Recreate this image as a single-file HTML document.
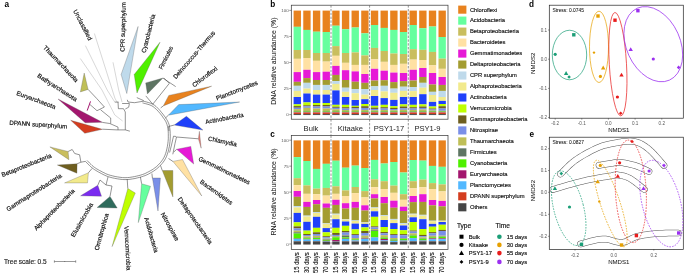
<!DOCTYPE html>
<html><head><meta charset="utf-8"><style>
html,body{margin:0;padding:0;background:#fff;}
body{width:685px;height:273px;overflow:hidden;}
svg{display:block;font-family:"Liberation Sans", sans-serif;will-change:transform;}
</style></head><body>
<svg width="685" height="273" viewBox="0 0 685 273">
<rect width="685" height="273" fill="#fff"/>
<g id="tree">
<text x="4.60" y="6.90" font-size="8.2" text-anchor="start" fill="#000" font-weight="bold">a</text>
<polyline points="94.4,33.5 112.3,90.0 114.8,98.0 117.0,102.1" fill="none" stroke="#b0b0b0" stroke-width="0.5"/>
<polyline points="85.4,45.6 107.2,90.0 114.8,102.1" fill="none" stroke="#b0b0b0" stroke-width="0.5"/>
<polyline points="80.3,58.5 102.0,90.0 114.8,115.0 122.6,121.0" fill="none" stroke="#b0b0b0" stroke-width="0.5"/>
<polyline points="113.0,62.3 118.7,90.0 122.1,102.1" fill="none" stroke="#b0b0b0" stroke-width="0.5"/>
<polyline points="88.1,89.4 96.8,98.6 104.4,107.0" fill="none" stroke="#3a3a3a" stroke-width="0.55"/>
<polyline points="89.7,104.3 97.0,110.7 104.4,107.0" fill="none" stroke="#3a3a3a" stroke-width="0.55"/>
<polyline points="100.6,109.8 110.7,118.0 110.7,123.5" fill="none" stroke="#3a3a3a" stroke-width="0.55"/>
<polyline points="102.4,122.4 109.8,123.5 118.0,127.1 118.0,129.9" fill="none" stroke="#3a3a3a" stroke-width="0.55"/>
<polyline points="102.4,129.2 117.1,129.9 125.3,129.9 129.9,131.2" fill="none" stroke="#3a3a3a" stroke-width="0.55"/>
<polyline points="114.8,102.1 118.4,102.1" fill="none" stroke="#3a3a3a" stroke-width="0.55"/>
<polyline points="118.0,101.8 118.4,108.7 123.5,108.7 125.3,112.0 125.3,129.9" fill="none" stroke="#3a3a3a" stroke-width="0.55"/>
<polyline points="122.1,103.5 129.4,103.5 128.7,107.2 125.3,109.0" fill="none" stroke="#3a3a3a" stroke-width="0.55"/>
<polyline points="127.3,99.8 128.0,102.0 134.6,102.7 143.4,101.2" fill="none" stroke="#3a3a3a" stroke-width="0.55"/>
<polyline points="136.8,97.6 143.4,100.5 143.4,101.2" fill="none" stroke="#3a3a3a" stroke-width="0.55"/>
<polyline points="145.8,95.9 152.8,104.2" fill="none" stroke="#3a3a3a" stroke-width="0.55"/>
<polyline points="162.9,78.1 175.7,86.6" fill="none" stroke="#3a3a3a" stroke-width="0.55"/>
<polyline points="163.8,78.0 169.3,83.4 152.8,104.2" fill="none" stroke="#3a3a3a" stroke-width="0.55"/>
<polyline points="143.4,101.2 144.6,101.5 146.3,101.9 148.2,102.5 150.3,103.1 152.4,104.0 154.3,105.1 156.1,106.5 157.9,108.3 159.7,110.2 161.4,112.3 163.0,114.2 164.4,116.1 165.6,117.7 166.6,119.3 167.5,120.8 168.2,122.3 168.9,124.0 169.4,126.0 169.8,128.3 170.1,130.8 170.2,133.4 170.3,136.2 170.2,138.9 170.0,141.5 169.7,144.1 169.3,146.7 168.7,149.3 168.1,151.9 167.3,154.3 166.5,156.5 165.5,158.5 164.5,160.3 163.3,162.0 162.0,163.6 160.7,165.1 159.3,166.5 157.9,167.8 156.4,169.1 154.9,170.2 153.3,171.3 151.6,172.3 150.0,173.2 148.4,174.1 146.7,174.9 145.1,175.6 143.3,176.2 141.5,176.8 139.5,177.4 137.3,177.9 135.0,178.5 132.5,178.9 130.0,179.3 127.5,179.5 125.0,179.6 122.5,179.5 119.9,179.2 117.2,178.8 114.6,178.3 112.2,177.8 110.0,177.2 108.0,176.6 106.2,175.9 104.6,175.2 103.0,174.4 101.5,173.6 100.0,172.8 98.5,172.0 97.1,171.2 95.8,170.4 94.5,169.6 93.2,168.7 92.0,167.8 90.7,166.7 89.5,165.5 88.2,164.3 87.1,163.1 86.1,162.1 85.4,161.4" fill="none" stroke="#3a3a3a" stroke-width="0.55"/>
<polyline points="142.5,102.9 143.7,103.2 145.3,103.6 147.1,104.1 149.2,104.7 151.2,105.5 153.0,106.5 154.7,107.9 156.5,109.5 158.2,111.3 159.9,113.2 161.4,115.1 162.7,116.9 163.8,118.5 164.8,119.9 165.7,121.4 166.4,122.9 167.0,124.5 167.5,126.4 167.9,128.6 168.2,131.0 168.3,133.5 168.3,136.2 168.3,138.8 168.1,141.3 167.8,143.8 167.4,146.3 166.9,148.8 166.3,151.3 165.6,153.6 164.8,155.7 163.9,157.6 162.8,159.4 161.7,161.0 160.5,162.5 159.2,163.9 157.9,165.3 156.5,166.6 155.1,167.7 153.6,168.8 152.1,169.8 150.5,170.7 148.9,171.6 147.3,172.4 145.8,173.2 144.2,173.9 142.5,174.5 140.7,175.1 138.8,175.6 136.7,176.1 134.5,176.6 132.2,177.0 129.8,177.4 127.4,177.6 125.0,177.7 122.6,177.6 120.1,177.3 117.5,176.9 115.1,176.5 112.7,175.9 110.6,175.4 108.7,174.8 107.0,174.2 105.4,173.5 103.9,172.7 102.4,172.0 101.0,171.2 99.6,170.5 98.2,169.7 96.9,169.0 95.7,168.2 94.5,167.4 93.3,166.5 92.1,165.5 90.9,164.3 89.7,163.2 88.6,162.0 87.7,161.1 87.0,160.4" fill="none" stroke="#3a3a3a" stroke-width="0.55"/>
<polyline points="163.3,105.9 160.7,107.9" fill="none" stroke="#3a3a3a" stroke-width="0.55"/>
<polyline points="168.4,115.2 165.5,118.0" fill="none" stroke="#3a3a3a" stroke-width="0.55"/>
<polyline points="174.3,125.0 168.5,126.5 169.0,131.0" fill="none" stroke="#3a3a3a" stroke-width="0.55"/>
<polyline points="198.4,138.8 176.5,137.0 175.0,143.5 172.8,154.3" fill="none" stroke="#3a3a3a" stroke-width="0.55"/>
<polyline points="176.2,136.5 173.5,136.2 171.5,145.0 169.6,152.5" fill="none" stroke="#3a3a3a" stroke-width="0.55"/>
<polyline points="176.7,149.3 173.8,152.0" fill="none" stroke="#3a3a3a" stroke-width="0.55"/>
<polyline points="172.9,161.4 168.5,158.5" fill="none" stroke="#3a3a3a" stroke-width="0.55"/>
<polyline points="162.3,170.5 160.5,165.5" fill="none" stroke="#3a3a3a" stroke-width="0.55"/>
<polyline points="152.4,178.0 151.9,173.5" fill="none" stroke="#3a3a3a" stroke-width="0.55"/>
<polyline points="141.6,183.7 140.4,177.0" fill="none" stroke="#3a3a3a" stroke-width="0.55"/>
<polyline points="127.8,188.5 127.2,179.0" fill="none" stroke="#3a3a3a" stroke-width="0.55"/>
<polyline points="110.0,196.4 112.0,186.0 106.0,185.0 108.0,177.0" fill="none" stroke="#3a3a3a" stroke-width="0.55"/>
<polyline points="97.8,185.3 100.0,180.0 106.0,185.0" fill="none" stroke="#3a3a3a" stroke-width="0.55"/>
<polyline points="88.4,172.8 92.0,168.5" fill="none" stroke="#3a3a3a" stroke-width="0.55"/>
<polyline points="77.1,163.8 80.9,162.2" fill="none" stroke="#3a3a3a" stroke-width="0.55"/>
<polyline points="68.1,151.5 72.2,149.5 74.7,153.5 79.6,154.8 80.9,162.2 85.4,161.4" fill="none" stroke="#3a3a3a" stroke-width="0.55"/>
<polygon points="138.1,26.5 121.1,74.5 126.8,93.5" fill="#BFDAEB" stroke="#555" stroke-width="0.3"/>
<polygon points="160.0,42.2 134.2,74.5 137.0,93.0" fill="#4FF000" stroke="#555" stroke-width="0.3"/>
<polygon points="162.9,78.1 145.7,82.9 147.4,93.9" fill="#5E7563" stroke="#555" stroke-width="0.3"/>
<polygon points="211.6,86.2 168.8,95.4 163.3,105.9" fill="#E8821E" stroke="#555" stroke-width="0.3"/>
<polygon points="239.6,102.0 178.7,104.6 168.4,115.2" fill="#52B8FF" stroke="#555" stroke-width="0.3"/>
<polygon points="186.4,116.3 174.3,125.0 202.9,130.1" fill="#1F40FA" stroke="#555" stroke-width="0.3"/>
<polygon points="198.4,138.8 199.4,131.3 201.2,148.2" fill="#E97A72" stroke="#555" stroke-width="0.3"/>
<polygon points="176.7,149.3 190.8,146.4 193.7,164.0" fill="#E619D6" stroke="#555" stroke-width="0.3"/>
<polygon points="172.9,161.4 182.5,159.5 201.8,196.0" fill="#FFE1A3" stroke="#555" stroke-width="0.3"/>
<polygon points="162.3,170.5 172.9,170.5 172.9,196.9" fill="#A39C30" stroke="#555" stroke-width="0.3"/>
<polygon points="152.4,178.0 160.4,178.0 158.0,211.0" fill="#7A8FE8" stroke="#555" stroke-width="0.3"/>
<polygon points="141.6,183.7 150.5,186.3 138.3,222.6" fill="#66FF9E" stroke="#555" stroke-width="0.3"/>
<polygon points="127.8,188.5 135.3,193.0 112.1,246.6" fill="#BFFF00" stroke="#555" stroke-width="0.3"/>
<polygon points="97.1,207.5 110.0,196.4 117.2,208.0" fill="#2F6B5C" stroke="#555" stroke-width="0.3"/>
<polygon points="80.6,195.8 97.8,185.3 101.5,196.2" fill="#7A2BF0" stroke="#555" stroke-width="0.3"/>
<polygon points="64.6,182.9 88.4,172.8 87.5,182.9" fill="#F2EA8C" stroke="#555" stroke-width="0.3"/>
<polygon points="57.4,165.0 77.1,163.8 76.9,173.2" fill="#6E5E1F" stroke="#555" stroke-width="0.3"/>
<polygon points="49.9,146.9 68.1,151.5 68.9,159.7" fill="#C9BE5E" stroke="#555" stroke-width="0.3"/>
<polygon points="70.7,120.3 102.4,129.3 84.8,133.3" fill="#D43D1F" stroke="#555" stroke-width="0.3"/>
<polygon points="58.0,99.0 85.2,122.7 102.4,122.3" fill="#A3166E" stroke="#555" stroke-width="0.3"/>
<polygon points="84.2,73.0 80.4,91.9 88.1,89.4" fill="#BFBF57" stroke="#555" stroke-width="0.3"/>
<polyline points="90.5,101.4 87.2,110.6" fill="none" stroke="#A3166E" stroke-width="1"/>
<text x="75.30" y="9.90" font-size="6.2" fill="#111" stroke="#111" stroke-width="0.18" dominant-baseline="central" textLength="33.50" lengthAdjust="spacingAndGlyphs" transform="rotate(62.44 75.30 9.90)">Unclassified</text>
<text x="44.60" y="46.20" font-size="6.2" fill="#111" stroke="#111" stroke-width="0.18" dominant-baseline="central" textLength="47.89" lengthAdjust="spacingAndGlyphs" transform="rotate(46.44 44.60 46.20)">Thaumarchaeota</text>
<text x="38.10" y="74.70" font-size="6.2" fill="#111" stroke="#111" stroke-width="0.18" dominant-baseline="central" textLength="46.02" lengthAdjust="spacingAndGlyphs" transform="rotate(32.76 38.10 74.70)">Bathyarchaeota</text>
<text x="17.00" y="92.30" font-size="6.2" fill="#111" stroke="#111" stroke-width="0.18" dominant-baseline="central" textLength="41.36" lengthAdjust="spacingAndGlyphs" transform="rotate(20.67 17.00 92.30)">Euryarchaeota</text>
<text x="9.40" y="122.20" font-size="6.2" fill="#111" stroke="#111" stroke-width="0.18" dominant-baseline="central" textLength="58.12" lengthAdjust="spacingAndGlyphs" transform="rotate(3.75 9.40 122.20)">DPANN superphylum</text>
<text x="1.70" y="174.70" font-size="6.2" fill="#111" stroke="#111" stroke-width="0.18" dominant-baseline="central" textLength="53.31" lengthAdjust="spacingAndGlyphs" transform="rotate(-21.80 1.70 174.70)">Betaproteobacteria</text>
<text x="6.60" y="209.30" font-size="6.2" fill="#111" stroke="#111" stroke-width="0.18" dominant-baseline="central" textLength="64.47" lengthAdjust="spacingAndGlyphs" transform="rotate(-32.46 6.60 209.30)">Gammaproteobacteria</text>
<text x="34.70" y="229.10" font-size="6.2" fill="#111" stroke="#111" stroke-width="0.18" dominant-baseline="central" textLength="55.30" lengthAdjust="spacingAndGlyphs" transform="rotate(-45.73 34.70 229.10)">Alphaproteobacteria</text>
<text x="72.20" y="236.30" font-size="6.2" fill="#111" stroke="#111" stroke-width="0.18" dominant-baseline="central" textLength="38.07" lengthAdjust="spacingAndGlyphs" transform="rotate(-60.40 72.20 236.30)">Elusimicrobia</text>
<text x="96.00" y="250.00" font-size="6.2" fill="#111" stroke="#111" stroke-width="0.18" dominant-baseline="central" textLength="38.02" lengthAdjust="spacingAndGlyphs" transform="rotate(-74.28 96.00 250.00)">Omnitrophica</text>
<text x="126.80" y="226.00" font-size="6.2" fill="#111" stroke="#111" stroke-width="0.18" dominant-baseline="central" textLength="44.46" lengthAdjust="spacingAndGlyphs" transform="rotate(86.91 126.80 226.00)">Verrucomicrobia</text>
<text x="146.70" y="217.40" font-size="6.2" fill="#111" stroke="#111" stroke-width="0.18" dominant-baseline="central" textLength="36.30" lengthAdjust="spacingAndGlyphs" transform="rotate(74.01 146.70 217.40)">Acidobacteria</text>
<text x="162.80" y="212.80" font-size="6.2" fill="#111" stroke="#111" stroke-width="0.18" dominant-baseline="central" textLength="31.33" lengthAdjust="spacingAndGlyphs" transform="rotate(60.98 162.80 212.80)">Nitrospirae</text>
<text x="179.50" y="197.60" font-size="6.2" fill="#111" stroke="#111" stroke-width="0.18" dominant-baseline="central" textLength="55.65" lengthAdjust="spacingAndGlyphs" transform="rotate(55.02 179.50 197.60)">Deltaproteobacteria</text>
<text x="201.00" y="180.80" font-size="6.2" fill="#111" stroke="#111" stroke-width="0.18" dominant-baseline="central" textLength="38.37" lengthAdjust="spacingAndGlyphs" transform="rotate(35.35 201.00 180.80)">Bacteroidetes</text>
<text x="199.00" y="158.00" font-size="6.2" fill="#111" stroke="#111" stroke-width="0.18" dominant-baseline="central" textLength="56.49" lengthAdjust="spacingAndGlyphs" transform="rotate(25.48 199.00 158.00)">Gemmatimonadetes</text>
<text x="208.40" y="138.00" font-size="6.2" fill="#111" stroke="#111" stroke-width="0.18" dominant-baseline="central" textLength="29.03" lengthAdjust="spacingAndGlyphs" transform="rotate(11.93 208.40 138.00)">Chlamydia</text>
<text x="205.30" y="121.60" font-size="6.2" fill="#111" stroke="#111" stroke-width="0.18" dominant-baseline="central" textLength="38.79" lengthAdjust="spacingAndGlyphs" transform="rotate(-10.85 205.30 121.60)">Actinobacteria</text>
<text x="216.10" y="98.10" font-size="6.2" fill="#111" stroke="#111" stroke-width="0.18" dominant-baseline="central" textLength="44.14" lengthAdjust="spacingAndGlyphs" transform="rotate(-21.39 216.10 98.10)">Planctomycetes</text>
<text x="192.70" y="85.40" font-size="6.2" fill="#111" stroke="#111" stroke-width="0.18" dominant-baseline="central" textLength="29.68" lengthAdjust="spacingAndGlyphs" transform="rotate(-37.33 192.70 85.40)">Chloroflexi</text>
<text x="174.00" y="77.70" font-size="6.2" fill="#111" stroke="#111" stroke-width="0.18" dominant-baseline="central" textLength="60.91" lengthAdjust="spacingAndGlyphs" transform="rotate(-49.33 174.00 77.70)">Deinococcus-Thermus</text>
<text x="160.00" y="68.60" font-size="6.2" fill="#111" stroke="#111" stroke-width="0.18" dominant-baseline="central" textLength="24.60" lengthAdjust="spacingAndGlyphs" transform="rotate(-63.43 160.00 68.60)">Firmicutes</text>
<text x="143.00" y="52.70" font-size="6.2" fill="#111" stroke="#111" stroke-width="0.18" dominant-baseline="central" textLength="39.66" lengthAdjust="spacingAndGlyphs" transform="rotate(-75.54 143.00 52.70)">Cyanobacteria</text>
<text x="122.00" y="51.60" font-size="6.2" fill="#111" stroke="#111" stroke-width="0.18" dominant-baseline="central" textLength="49.41" lengthAdjust="spacingAndGlyphs" transform="rotate(-88.61 122.00 51.60)">CPR superphylum</text>
<text x="3.90" y="263.60" font-size="6.5" text-anchor="start" fill="#222" stroke="#222" stroke-width="0.15">Tree scale: 0.5</text>
<line x1="54.4" y1="261.5" x2="75.7" y2="261.5" stroke="#555" stroke-width="0.6"/>
<line x1="54.4" y1="260.3" x2="54.4" y2="262.7" stroke="#555" stroke-width="0.6"/>
<line x1="75.7" y1="260.3" x2="75.7" y2="262.7" stroke="#555" stroke-width="0.6"/>
<line x1="64.7" y1="261.0" x2="64.7" y2="262.0" stroke="#555" stroke-width="0.6"/>
</g>
<text x="270.30" y="6.60" font-size="8.2" text-anchor="start" fill="#000" font-weight="bold">b</text>
<rect x="293.60" y="10.60" width="7.35" height="16.25" fill="#E8821E"/>
<rect x="293.60" y="26.80" width="7.35" height="23.25" fill="#66FF9E"/>
<rect x="293.60" y="50.00" width="7.35" height="8.85" fill="#C9BE5E"/>
<rect x="293.60" y="58.80" width="7.35" height="13.35" fill="#FFE1A3"/>
<rect x="293.60" y="72.10" width="7.35" height="9.75" fill="#E619D6"/>
<rect x="293.60" y="81.80" width="7.35" height="4.05" fill="#A39C30"/>
<rect x="293.60" y="85.80" width="7.35" height="5.15" fill="#BFDAEB"/>
<rect x="293.60" y="90.90" width="7.35" height="6.15" fill="#F2EA8C"/>
<rect x="293.60" y="97.00" width="7.35" height="7.35" fill="#1F40FA"/>
<rect x="293.60" y="104.30" width="7.35" height="1.85" fill="#BFFF00"/>
<rect x="293.60" y="106.10" width="7.35" height="1.65" fill="#6E5E1F"/>
<rect x="293.60" y="107.70" width="7.35" height="1.45" fill="#7A8FE8"/>
<rect x="293.60" y="109.10" width="7.35" height="1.85" fill="#BFBF57"/>
<rect x="293.60" y="110.90" width="7.35" height="0.55" fill="#5E7563"/>
<rect x="293.60" y="111.40" width="7.35" height="0.55" fill="#4FF000"/>
<rect x="293.60" y="111.90" width="7.35" height="0.25" fill="#A3166E"/>
<rect x="293.60" y="112.10" width="7.35" height="0.35" fill="#52B8FF"/>
<rect x="293.60" y="112.40" width="7.35" height="1.75" fill="#D43D1F"/>
<rect x="293.60" y="114.10" width="7.35" height="0.95" fill="#454545"/>
<rect x="303.26" y="10.60" width="7.35" height="19.35" fill="#E8821E"/>
<rect x="303.26" y="29.90" width="7.35" height="20.15" fill="#66FF9E"/>
<rect x="303.26" y="50.00" width="7.35" height="8.05" fill="#C9BE5E"/>
<rect x="303.26" y="58.00" width="7.35" height="11.85" fill="#FFE1A3"/>
<rect x="303.26" y="69.80" width="7.35" height="8.35" fill="#E619D6"/>
<rect x="303.26" y="78.10" width="7.35" height="4.75" fill="#A39C30"/>
<rect x="303.26" y="82.80" width="7.35" height="5.85" fill="#BFDAEB"/>
<rect x="303.26" y="88.60" width="7.35" height="4.95" fill="#F2EA8C"/>
<rect x="303.26" y="93.50" width="7.35" height="8.95" fill="#1F40FA"/>
<rect x="303.26" y="102.40" width="7.35" height="2.95" fill="#BFFF00"/>
<rect x="303.26" y="105.30" width="7.35" height="1.05" fill="#6E5E1F"/>
<rect x="303.26" y="106.30" width="7.35" height="1.55" fill="#7A8FE8"/>
<rect x="303.26" y="107.80" width="7.35" height="3.15" fill="#BFBF57"/>
<rect x="303.26" y="110.90" width="7.35" height="0.55" fill="#5E7563"/>
<rect x="303.26" y="111.40" width="7.35" height="0.55" fill="#4FF000"/>
<rect x="303.26" y="111.90" width="7.35" height="0.25" fill="#A3166E"/>
<rect x="303.26" y="112.10" width="7.35" height="0.35" fill="#52B8FF"/>
<rect x="303.26" y="112.40" width="7.35" height="1.75" fill="#D43D1F"/>
<rect x="303.26" y="114.10" width="7.35" height="0.95" fill="#454545"/>
<rect x="312.92" y="10.60" width="7.35" height="21.15" fill="#E8821E"/>
<rect x="312.92" y="31.70" width="7.35" height="21.35" fill="#66FF9E"/>
<rect x="312.92" y="53.00" width="7.35" height="7.85" fill="#C9BE5E"/>
<rect x="312.92" y="60.80" width="7.35" height="11.35" fill="#FFE1A3"/>
<rect x="312.92" y="72.10" width="7.35" height="7.95" fill="#E619D6"/>
<rect x="312.92" y="80.00" width="7.35" height="4.95" fill="#A39C30"/>
<rect x="312.92" y="84.90" width="7.35" height="5.15" fill="#BFDAEB"/>
<rect x="312.92" y="90.00" width="7.35" height="4.65" fill="#F2EA8C"/>
<rect x="312.92" y="94.60" width="7.35" height="8.45" fill="#1F40FA"/>
<rect x="312.92" y="103.00" width="7.35" height="2.05" fill="#BFFF00"/>
<rect x="312.92" y="105.00" width="7.35" height="1.55" fill="#6E5E1F"/>
<rect x="312.92" y="106.50" width="7.35" height="2.05" fill="#7A8FE8"/>
<rect x="312.92" y="108.50" width="7.35" height="2.45" fill="#BFBF57"/>
<rect x="312.92" y="110.90" width="7.35" height="0.55" fill="#5E7563"/>
<rect x="312.92" y="111.40" width="7.35" height="0.55" fill="#4FF000"/>
<rect x="312.92" y="111.90" width="7.35" height="0.25" fill="#A3166E"/>
<rect x="312.92" y="112.10" width="7.35" height="0.35" fill="#52B8FF"/>
<rect x="312.92" y="112.40" width="7.35" height="1.75" fill="#D43D1F"/>
<rect x="312.92" y="114.10" width="7.35" height="0.95" fill="#454545"/>
<rect x="322.58" y="10.60" width="7.35" height="21.45" fill="#E8821E"/>
<rect x="322.58" y="32.00" width="7.35" height="21.05" fill="#66FF9E"/>
<rect x="322.58" y="53.00" width="7.35" height="8.65" fill="#C9BE5E"/>
<rect x="322.58" y="61.60" width="7.35" height="10.15" fill="#FFE1A3"/>
<rect x="322.58" y="71.70" width="7.35" height="8.35" fill="#E619D6"/>
<rect x="322.58" y="80.00" width="7.35" height="4.95" fill="#A39C30"/>
<rect x="322.58" y="84.90" width="7.35" height="5.15" fill="#BFDAEB"/>
<rect x="322.58" y="90.00" width="7.35" height="4.65" fill="#F2EA8C"/>
<rect x="322.58" y="94.60" width="7.35" height="8.45" fill="#1F40FA"/>
<rect x="322.58" y="103.00" width="7.35" height="2.05" fill="#BFFF00"/>
<rect x="322.58" y="105.00" width="7.35" height="1.55" fill="#6E5E1F"/>
<rect x="322.58" y="106.50" width="7.35" height="2.05" fill="#7A8FE8"/>
<rect x="322.58" y="108.50" width="7.35" height="2.45" fill="#BFBF57"/>
<rect x="322.58" y="110.90" width="7.35" height="0.55" fill="#5E7563"/>
<rect x="322.58" y="111.40" width="7.35" height="0.55" fill="#4FF000"/>
<rect x="322.58" y="111.90" width="7.35" height="0.25" fill="#A3166E"/>
<rect x="322.58" y="112.10" width="7.35" height="0.35" fill="#52B8FF"/>
<rect x="322.58" y="112.40" width="7.35" height="1.75" fill="#D43D1F"/>
<rect x="322.58" y="114.10" width="7.35" height="0.95" fill="#454545"/>
<rect x="332.24" y="10.60" width="7.35" height="15.15" fill="#E8821E"/>
<rect x="332.24" y="25.70" width="7.35" height="20.45" fill="#66FF9E"/>
<rect x="332.24" y="46.10" width="7.35" height="9.75" fill="#C9BE5E"/>
<rect x="332.24" y="55.80" width="7.35" height="10.15" fill="#FFE1A3"/>
<rect x="332.24" y="65.90" width="7.35" height="9.05" fill="#E619D6"/>
<rect x="332.24" y="74.90" width="7.35" height="6.25" fill="#A39C30"/>
<rect x="332.24" y="81.10" width="7.35" height="2.85" fill="#BFDAEB"/>
<rect x="332.24" y="83.90" width="7.35" height="6.55" fill="#F2EA8C"/>
<rect x="332.24" y="90.40" width="7.35" height="14.45" fill="#1F40FA"/>
<rect x="332.24" y="104.80" width="7.35" height="1.95" fill="#BFFF00"/>
<rect x="332.24" y="106.70" width="7.35" height="1.15" fill="#6E5E1F"/>
<rect x="332.24" y="107.80" width="7.35" height="1.45" fill="#7A8FE8"/>
<rect x="332.24" y="109.20" width="7.35" height="1.75" fill="#BFBF57"/>
<rect x="332.24" y="110.90" width="7.35" height="0.55" fill="#5E7563"/>
<rect x="332.24" y="111.40" width="7.35" height="0.55" fill="#4FF000"/>
<rect x="332.24" y="111.90" width="7.35" height="0.25" fill="#A3166E"/>
<rect x="332.24" y="112.10" width="7.35" height="0.35" fill="#52B8FF"/>
<rect x="332.24" y="112.40" width="7.35" height="1.75" fill="#D43D1F"/>
<rect x="332.24" y="114.10" width="7.35" height="0.95" fill="#454545"/>
<rect x="341.90" y="10.60" width="7.35" height="18.65" fill="#E8821E"/>
<rect x="341.90" y="29.20" width="7.35" height="23.85" fill="#66FF9E"/>
<rect x="341.90" y="53.00" width="7.35" height="9.85" fill="#C9BE5E"/>
<rect x="341.90" y="62.80" width="7.35" height="7.45" fill="#FFE1A3"/>
<rect x="341.90" y="70.20" width="7.35" height="9.85" fill="#E619D6"/>
<rect x="341.90" y="80.00" width="7.35" height="7.75" fill="#A39C30"/>
<rect x="341.90" y="87.70" width="7.35" height="4.15" fill="#BFDAEB"/>
<rect x="341.90" y="91.80" width="7.35" height="5.25" fill="#F2EA8C"/>
<rect x="341.90" y="97.00" width="7.35" height="7.85" fill="#1F40FA"/>
<rect x="341.90" y="104.80" width="7.35" height="2.45" fill="#BFFF00"/>
<rect x="341.90" y="107.20" width="7.35" height="1.35" fill="#6E5E1F"/>
<rect x="341.90" y="108.50" width="7.35" height="1.55" fill="#7A8FE8"/>
<rect x="341.90" y="110.00" width="7.35" height="0.95" fill="#BFBF57"/>
<rect x="341.90" y="110.90" width="7.35" height="0.55" fill="#5E7563"/>
<rect x="341.90" y="111.40" width="7.35" height="0.55" fill="#4FF000"/>
<rect x="341.90" y="111.90" width="7.35" height="0.25" fill="#A3166E"/>
<rect x="341.90" y="112.10" width="7.35" height="0.35" fill="#52B8FF"/>
<rect x="341.90" y="112.40" width="7.35" height="1.75" fill="#D43D1F"/>
<rect x="341.90" y="114.10" width="7.35" height="0.95" fill="#454545"/>
<rect x="351.56" y="10.60" width="7.35" height="16.95" fill="#E8821E"/>
<rect x="351.56" y="27.50" width="7.35" height="24.95" fill="#66FF9E"/>
<rect x="351.56" y="52.40" width="7.35" height="12.55" fill="#C9BE5E"/>
<rect x="351.56" y="64.90" width="7.35" height="6.55" fill="#FFE1A3"/>
<rect x="351.56" y="71.40" width="7.35" height="10.35" fill="#E619D6"/>
<rect x="351.56" y="81.70" width="7.35" height="7.35" fill="#A39C30"/>
<rect x="351.56" y="89.00" width="7.35" height="4.25" fill="#BFDAEB"/>
<rect x="351.56" y="93.20" width="7.35" height="6.85" fill="#F2EA8C"/>
<rect x="351.56" y="100.00" width="7.35" height="5.85" fill="#1F40FA"/>
<rect x="351.56" y="105.80" width="7.35" height="1.15" fill="#BFFF00"/>
<rect x="351.56" y="106.90" width="7.35" height="1.35" fill="#6E5E1F"/>
<rect x="351.56" y="108.20" width="7.35" height="1.55" fill="#7A8FE8"/>
<rect x="351.56" y="109.70" width="7.35" height="1.25" fill="#BFBF57"/>
<rect x="351.56" y="110.90" width="7.35" height="0.55" fill="#5E7563"/>
<rect x="351.56" y="111.40" width="7.35" height="0.55" fill="#4FF000"/>
<rect x="351.56" y="111.90" width="7.35" height="0.25" fill="#A3166E"/>
<rect x="351.56" y="112.10" width="7.35" height="0.35" fill="#52B8FF"/>
<rect x="351.56" y="112.40" width="7.35" height="1.75" fill="#D43D1F"/>
<rect x="351.56" y="114.10" width="7.35" height="0.95" fill="#454545"/>
<rect x="361.22" y="10.60" width="7.35" height="22.75" fill="#E8821E"/>
<rect x="361.22" y="33.30" width="7.35" height="22.15" fill="#66FF9E"/>
<rect x="361.22" y="55.40" width="7.35" height="9.55" fill="#C9BE5E"/>
<rect x="361.22" y="64.90" width="7.35" height="9.15" fill="#FFE1A3"/>
<rect x="361.22" y="74.00" width="7.35" height="8.85" fill="#E619D6"/>
<rect x="361.22" y="82.80" width="7.35" height="6.25" fill="#A39C30"/>
<rect x="361.22" y="89.00" width="7.35" height="5.65" fill="#BFDAEB"/>
<rect x="361.22" y="94.60" width="7.35" height="4.65" fill="#F2EA8C"/>
<rect x="361.22" y="99.20" width="7.35" height="4.85" fill="#1F40FA"/>
<rect x="361.22" y="104.00" width="7.35" height="2.25" fill="#BFFF00"/>
<rect x="361.22" y="106.20" width="7.35" height="1.75" fill="#6E5E1F"/>
<rect x="361.22" y="107.90" width="7.35" height="2.05" fill="#7A8FE8"/>
<rect x="361.22" y="109.90" width="7.35" height="1.05" fill="#BFBF57"/>
<rect x="361.22" y="110.90" width="7.35" height="0.55" fill="#5E7563"/>
<rect x="361.22" y="111.40" width="7.35" height="0.55" fill="#4FF000"/>
<rect x="361.22" y="111.90" width="7.35" height="0.25" fill="#A3166E"/>
<rect x="361.22" y="112.10" width="7.35" height="0.35" fill="#52B8FF"/>
<rect x="361.22" y="112.40" width="7.35" height="1.75" fill="#D43D1F"/>
<rect x="361.22" y="114.10" width="7.35" height="0.95" fill="#454545"/>
<rect x="370.88" y="10.60" width="7.35" height="14.45" fill="#E8821E"/>
<rect x="370.88" y="25.00" width="7.35" height="22.95" fill="#66FF9E"/>
<rect x="370.88" y="47.90" width="7.35" height="11.45" fill="#C9BE5E"/>
<rect x="370.88" y="59.30" width="7.35" height="9.55" fill="#FFE1A3"/>
<rect x="370.88" y="68.80" width="7.35" height="11.75" fill="#E619D6"/>
<rect x="370.88" y="80.50" width="7.35" height="5.85" fill="#A39C30"/>
<rect x="370.88" y="86.30" width="7.35" height="3.75" fill="#BFDAEB"/>
<rect x="370.88" y="90.00" width="7.35" height="6.05" fill="#F2EA8C"/>
<rect x="370.88" y="96.00" width="7.35" height="9.85" fill="#1F40FA"/>
<rect x="370.88" y="105.80" width="7.35" height="1.85" fill="#BFFF00"/>
<rect x="370.88" y="107.60" width="7.35" height="1.35" fill="#6E5E1F"/>
<rect x="370.88" y="108.90" width="7.35" height="1.35" fill="#7A8FE8"/>
<rect x="370.88" y="110.20" width="7.35" height="0.75" fill="#BFBF57"/>
<rect x="370.88" y="110.90" width="7.35" height="0.55" fill="#5E7563"/>
<rect x="370.88" y="111.40" width="7.35" height="0.55" fill="#4FF000"/>
<rect x="370.88" y="111.90" width="7.35" height="0.25" fill="#A3166E"/>
<rect x="370.88" y="112.10" width="7.35" height="0.35" fill="#52B8FF"/>
<rect x="370.88" y="112.40" width="7.35" height="1.75" fill="#D43D1F"/>
<rect x="370.88" y="114.10" width="7.35" height="0.95" fill="#454545"/>
<rect x="380.54" y="10.60" width="7.35" height="17.35" fill="#E8821E"/>
<rect x="380.54" y="27.90" width="7.35" height="23.15" fill="#66FF9E"/>
<rect x="380.54" y="51.00" width="7.35" height="10.85" fill="#C9BE5E"/>
<rect x="380.54" y="61.80" width="7.35" height="8.95" fill="#FFE1A3"/>
<rect x="380.54" y="70.70" width="7.35" height="9.55" fill="#E619D6"/>
<rect x="380.54" y="80.20" width="7.35" height="5.65" fill="#A39C30"/>
<rect x="380.54" y="85.80" width="7.35" height="5.65" fill="#BFDAEB"/>
<rect x="380.54" y="91.40" width="7.35" height="6.75" fill="#F2EA8C"/>
<rect x="380.54" y="98.10" width="7.35" height="6.75" fill="#1F40FA"/>
<rect x="380.54" y="104.80" width="7.35" height="2.45" fill="#BFFF00"/>
<rect x="380.54" y="107.20" width="7.35" height="1.35" fill="#6E5E1F"/>
<rect x="380.54" y="108.50" width="7.35" height="1.45" fill="#7A8FE8"/>
<rect x="380.54" y="109.90" width="7.35" height="1.05" fill="#BFBF57"/>
<rect x="380.54" y="110.90" width="7.35" height="0.55" fill="#5E7563"/>
<rect x="380.54" y="111.40" width="7.35" height="0.55" fill="#4FF000"/>
<rect x="380.54" y="111.90" width="7.35" height="0.25" fill="#A3166E"/>
<rect x="380.54" y="112.10" width="7.35" height="0.35" fill="#52B8FF"/>
<rect x="380.54" y="112.40" width="7.35" height="1.75" fill="#D43D1F"/>
<rect x="380.54" y="114.10" width="7.35" height="0.95" fill="#454545"/>
<rect x="390.20" y="10.60" width="7.35" height="19.35" fill="#E8821E"/>
<rect x="390.20" y="29.90" width="7.35" height="23.65" fill="#66FF9E"/>
<rect x="390.20" y="53.50" width="7.35" height="11.45" fill="#C9BE5E"/>
<rect x="390.20" y="64.90" width="7.35" height="7.75" fill="#FFE1A3"/>
<rect x="390.20" y="72.60" width="7.35" height="9.55" fill="#E619D6"/>
<rect x="390.20" y="82.10" width="7.35" height="6.55" fill="#A39C30"/>
<rect x="390.20" y="88.60" width="7.35" height="4.25" fill="#BFDAEB"/>
<rect x="390.20" y="92.80" width="7.35" height="7.15" fill="#F2EA8C"/>
<rect x="390.20" y="99.90" width="7.35" height="6.35" fill="#1F40FA"/>
<rect x="390.20" y="106.20" width="7.35" height="1.75" fill="#BFFF00"/>
<rect x="390.20" y="107.90" width="7.35" height="1.15" fill="#6E5E1F"/>
<rect x="390.20" y="109.00" width="7.35" height="1.25" fill="#7A8FE8"/>
<rect x="390.20" y="110.20" width="7.35" height="0.75" fill="#BFBF57"/>
<rect x="390.20" y="110.90" width="7.35" height="0.55" fill="#5E7563"/>
<rect x="390.20" y="111.40" width="7.35" height="0.55" fill="#4FF000"/>
<rect x="390.20" y="111.90" width="7.35" height="0.25" fill="#A3166E"/>
<rect x="390.20" y="112.10" width="7.35" height="0.35" fill="#52B8FF"/>
<rect x="390.20" y="112.40" width="7.35" height="1.75" fill="#D43D1F"/>
<rect x="390.20" y="114.10" width="7.35" height="0.95" fill="#454545"/>
<rect x="399.86" y="10.60" width="7.35" height="21.45" fill="#E8821E"/>
<rect x="399.86" y="32.00" width="7.35" height="22.05" fill="#66FF9E"/>
<rect x="399.86" y="54.00" width="7.35" height="9.85" fill="#C9BE5E"/>
<rect x="399.86" y="63.80" width="7.35" height="9.25" fill="#FFE1A3"/>
<rect x="399.86" y="73.00" width="7.35" height="8.15" fill="#E619D6"/>
<rect x="399.86" y="81.10" width="7.35" height="5.65" fill="#A39C30"/>
<rect x="399.86" y="86.70" width="7.35" height="4.25" fill="#BFDAEB"/>
<rect x="399.86" y="90.90" width="7.35" height="6.15" fill="#F2EA8C"/>
<rect x="399.86" y="97.00" width="7.35" height="7.45" fill="#1F40FA"/>
<rect x="399.86" y="104.40" width="7.35" height="2.15" fill="#BFFF00"/>
<rect x="399.86" y="106.50" width="7.35" height="1.85" fill="#6E5E1F"/>
<rect x="399.86" y="108.30" width="7.35" height="1.55" fill="#7A8FE8"/>
<rect x="399.86" y="109.80" width="7.35" height="1.15" fill="#BFBF57"/>
<rect x="399.86" y="110.90" width="7.35" height="0.55" fill="#5E7563"/>
<rect x="399.86" y="111.40" width="7.35" height="0.55" fill="#4FF000"/>
<rect x="399.86" y="111.90" width="7.35" height="0.25" fill="#A3166E"/>
<rect x="399.86" y="112.10" width="7.35" height="0.35" fill="#52B8FF"/>
<rect x="399.86" y="112.40" width="7.35" height="1.75" fill="#D43D1F"/>
<rect x="399.86" y="114.10" width="7.35" height="0.95" fill="#454545"/>
<rect x="409.52" y="10.60" width="7.35" height="14.45" fill="#E8821E"/>
<rect x="409.52" y="25.00" width="7.35" height="24.25" fill="#66FF9E"/>
<rect x="409.52" y="49.20" width="7.35" height="10.45" fill="#C9BE5E"/>
<rect x="409.52" y="59.60" width="7.35" height="10.25" fill="#FFE1A3"/>
<rect x="409.52" y="69.80" width="7.35" height="10.75" fill="#E619D6"/>
<rect x="409.52" y="80.50" width="7.35" height="6.55" fill="#A39C30"/>
<rect x="409.52" y="87.00" width="7.35" height="4.15" fill="#BFDAEB"/>
<rect x="409.52" y="91.10" width="7.35" height="5.95" fill="#F2EA8C"/>
<rect x="409.52" y="97.00" width="7.35" height="7.85" fill="#1F40FA"/>
<rect x="409.52" y="104.80" width="7.35" height="2.45" fill="#BFFF00"/>
<rect x="409.52" y="107.20" width="7.35" height="1.35" fill="#6E5E1F"/>
<rect x="409.52" y="108.50" width="7.35" height="1.45" fill="#7A8FE8"/>
<rect x="409.52" y="109.90" width="7.35" height="1.05" fill="#BFBF57"/>
<rect x="409.52" y="110.90" width="7.35" height="0.55" fill="#5E7563"/>
<rect x="409.52" y="111.40" width="7.35" height="0.55" fill="#4FF000"/>
<rect x="409.52" y="111.90" width="7.35" height="0.25" fill="#A3166E"/>
<rect x="409.52" y="112.10" width="7.35" height="0.35" fill="#52B8FF"/>
<rect x="409.52" y="112.40" width="7.35" height="1.75" fill="#D43D1F"/>
<rect x="409.52" y="114.10" width="7.35" height="0.95" fill="#454545"/>
<rect x="419.18" y="10.60" width="7.35" height="17.65" fill="#E8821E"/>
<rect x="419.18" y="28.20" width="7.35" height="21.65" fill="#66FF9E"/>
<rect x="419.18" y="49.80" width="7.35" height="10.25" fill="#C9BE5E"/>
<rect x="419.18" y="60.00" width="7.35" height="8.05" fill="#FFE1A3"/>
<rect x="419.18" y="68.00" width="7.35" height="9.05" fill="#E619D6"/>
<rect x="419.18" y="77.00" width="7.35" height="5.85" fill="#A39C30"/>
<rect x="419.18" y="82.80" width="7.35" height="4.95" fill="#BFDAEB"/>
<rect x="419.18" y="87.70" width="7.35" height="6.55" fill="#F2EA8C"/>
<rect x="419.18" y="94.20" width="7.35" height="10.25" fill="#1F40FA"/>
<rect x="419.18" y="104.40" width="7.35" height="2.15" fill="#BFFF00"/>
<rect x="419.18" y="106.50" width="7.35" height="1.45" fill="#6E5E1F"/>
<rect x="419.18" y="107.90" width="7.35" height="1.65" fill="#7A8FE8"/>
<rect x="419.18" y="109.50" width="7.35" height="1.45" fill="#BFBF57"/>
<rect x="419.18" y="110.90" width="7.35" height="0.55" fill="#5E7563"/>
<rect x="419.18" y="111.40" width="7.35" height="0.55" fill="#4FF000"/>
<rect x="419.18" y="111.90" width="7.35" height="0.25" fill="#A3166E"/>
<rect x="419.18" y="112.10" width="7.35" height="0.35" fill="#52B8FF"/>
<rect x="419.18" y="112.40" width="7.35" height="1.75" fill="#D43D1F"/>
<rect x="419.18" y="114.10" width="7.35" height="0.95" fill="#454545"/>
<rect x="428.84" y="10.60" width="7.35" height="15.95" fill="#E8821E"/>
<rect x="428.84" y="26.50" width="7.35" height="25.45" fill="#66FF9E"/>
<rect x="428.84" y="51.90" width="7.35" height="13.45" fill="#C9BE5E"/>
<rect x="428.84" y="65.30" width="7.35" height="7.75" fill="#FFE1A3"/>
<rect x="428.84" y="73.00" width="7.35" height="11.55" fill="#E619D6"/>
<rect x="428.84" y="84.50" width="7.35" height="7.35" fill="#A39C30"/>
<rect x="428.84" y="91.80" width="7.35" height="3.25" fill="#BFDAEB"/>
<rect x="428.84" y="95.00" width="7.35" height="6.95" fill="#F2EA8C"/>
<rect x="428.84" y="101.90" width="7.35" height="4.65" fill="#1F40FA"/>
<rect x="428.84" y="106.50" width="7.35" height="2.05" fill="#BFFF00"/>
<rect x="428.84" y="108.50" width="7.35" height="1.05" fill="#6E5E1F"/>
<rect x="428.84" y="109.50" width="7.35" height="1.05" fill="#7A8FE8"/>
<rect x="428.84" y="110.50" width="7.35" height="0.45" fill="#BFBF57"/>
<rect x="428.84" y="110.90" width="7.35" height="0.55" fill="#5E7563"/>
<rect x="428.84" y="111.40" width="7.35" height="0.55" fill="#4FF000"/>
<rect x="428.84" y="111.90" width="7.35" height="0.25" fill="#A3166E"/>
<rect x="428.84" y="112.10" width="7.35" height="0.35" fill="#52B8FF"/>
<rect x="428.84" y="112.40" width="7.35" height="1.75" fill="#D43D1F"/>
<rect x="428.84" y="114.10" width="7.35" height="0.95" fill="#454545"/>
<rect x="438.50" y="10.60" width="7.35" height="26.45" fill="#E8821E"/>
<rect x="438.50" y="37.00" width="7.35" height="21.65" fill="#66FF9E"/>
<rect x="438.50" y="58.60" width="7.35" height="10.25" fill="#C9BE5E"/>
<rect x="438.50" y="68.80" width="7.35" height="8.25" fill="#FFE1A3"/>
<rect x="438.50" y="77.00" width="7.35" height="7.95" fill="#E619D6"/>
<rect x="438.50" y="84.90" width="7.35" height="6.05" fill="#A39C30"/>
<rect x="438.50" y="90.90" width="7.35" height="6.15" fill="#BFDAEB"/>
<rect x="438.50" y="97.00" width="7.35" height="3.95" fill="#F2EA8C"/>
<rect x="438.50" y="100.90" width="7.35" height="3.15" fill="#1F40FA"/>
<rect x="438.50" y="104.00" width="7.35" height="2.25" fill="#BFFF00"/>
<rect x="438.50" y="106.20" width="7.35" height="2.35" fill="#6E5E1F"/>
<rect x="438.50" y="108.50" width="7.35" height="2.35" fill="#7A8FE8"/>
<rect x="438.50" y="110.80" width="7.35" height="0.35" fill="#BFBF57"/>
<rect x="438.50" y="111.10" width="7.35" height="0.35" fill="#5E7563"/>
<rect x="438.50" y="111.40" width="7.35" height="0.55" fill="#4FF000"/>
<rect x="438.50" y="111.90" width="7.35" height="0.25" fill="#A3166E"/>
<rect x="438.50" y="112.10" width="7.35" height="0.35" fill="#52B8FF"/>
<rect x="438.50" y="112.40" width="7.35" height="1.75" fill="#D43D1F"/>
<rect x="438.50" y="114.10" width="7.35" height="0.95" fill="#454545"/>
<rect x="291.3" y="5.2" width="156.7" height="114.0" fill="none" stroke="#333" stroke-width="0.7"/>
<line x1="331.0" y1="5.2" x2="331.0" y2="119.2" stroke="#666" stroke-width="0.7" stroke-dasharray="2.4,1.4"/>
<line x1="369.6" y1="5.2" x2="369.6" y2="119.2" stroke="#666" stroke-width="0.7" stroke-dasharray="2.4,1.4"/>
<line x1="408.3" y1="5.2" x2="408.3" y2="119.2" stroke="#666" stroke-width="0.7" stroke-dasharray="2.4,1.4"/>
<line x1="289.3" y1="114.60" x2="291.3" y2="114.60" stroke="#333" stroke-width="0.5"/>
<text x="288.60" y="116.15" font-size="4.4" text-anchor="end" fill="#555">0</text>
<line x1="289.3" y1="88.55" x2="291.3" y2="88.55" stroke="#333" stroke-width="0.5"/>
<text x="288.60" y="90.10" font-size="4.4" text-anchor="end" fill="#555">25</text>
<line x1="289.3" y1="62.50" x2="291.3" y2="62.50" stroke="#333" stroke-width="0.5"/>
<text x="288.60" y="64.05" font-size="4.4" text-anchor="end" fill="#555">50</text>
<line x1="289.3" y1="36.45" x2="291.3" y2="36.45" stroke="#333" stroke-width="0.5"/>
<text x="288.60" y="38.00" font-size="4.4" text-anchor="end" fill="#555">75</text>
<line x1="289.3" y1="10.40" x2="291.3" y2="10.40" stroke="#333" stroke-width="0.5"/>
<text x="288.60" y="11.95" font-size="4.4" text-anchor="end" fill="#555">100</text>
<text x="275.60" y="61.05" font-size="6.92" text-anchor="middle" fill="#1a1a1a" stroke="#1a1a1a" stroke-width="0.04" transform="rotate(-90.00 275.60 61.05)">DNA relative abundance (%)</text>
<text x="311.00" y="130.60" font-size="7.6" text-anchor="middle" fill="#222">Bulk</text>
<text x="350.40" y="130.60" font-size="7.6" text-anchor="middle" fill="#222">Kitaake</text>
<text x="389.00" y="130.60" font-size="7.6" text-anchor="middle" fill="#222">PSY1-17</text>
<text x="427.50" y="130.60" font-size="7.6" text-anchor="middle" fill="#222">PSY1-9</text>
<line x1="331.0" y1="119.2" x2="331.0" y2="135.5" stroke="#666" stroke-width="0.7" stroke-dasharray="2.4,1.4"/>
<line x1="369.6" y1="119.2" x2="369.6" y2="135.5" stroke="#666" stroke-width="0.7" stroke-dasharray="2.4,1.4"/>
<line x1="408.3" y1="119.2" x2="408.3" y2="135.5" stroke="#666" stroke-width="0.7" stroke-dasharray="2.4,1.4"/>
<text x="270.30" y="137.00" font-size="8.2" text-anchor="start" fill="#000" font-weight="bold">c</text>
<rect x="293.60" y="140.40" width="7.35" height="16.75" fill="#E8821E"/>
<rect x="293.60" y="157.10" width="7.35" height="21.15" fill="#66FF9E"/>
<rect x="293.60" y="178.20" width="7.35" height="6.95" fill="#C9BE5E"/>
<rect x="293.60" y="185.10" width="7.35" height="5.95" fill="#FFE1A3"/>
<rect x="293.60" y="191.00" width="7.35" height="5.85" fill="#E619D6"/>
<rect x="293.60" y="196.80" width="7.35" height="9.25" fill="#A39C30"/>
<rect x="293.60" y="206.00" width="7.35" height="1.45" fill="#BFDAEB"/>
<rect x="293.60" y="207.40" width="7.35" height="5.55" fill="#F2EA8C"/>
<rect x="293.60" y="212.90" width="7.35" height="9.45" fill="#1F40FA"/>
<rect x="293.60" y="222.30" width="7.35" height="4.15" fill="#BFFF00"/>
<rect x="293.60" y="226.40" width="7.35" height="2.05" fill="#6E5E1F"/>
<rect x="293.60" y="228.40" width="7.35" height="2.25" fill="#7A8FE8"/>
<rect x="293.60" y="230.60" width="7.35" height="1.75" fill="#BFBF57"/>
<rect x="293.60" y="232.30" width="7.35" height="1.25" fill="#5E7563"/>
<rect x="293.60" y="233.50" width="7.35" height="5.15" fill="#4FF000"/>
<rect x="293.60" y="238.60" width="7.35" height="0.35" fill="#A3166E"/>
<rect x="293.60" y="238.90" width="7.35" height="2.35" fill="#52B8FF"/>
<rect x="293.60" y="241.20" width="7.35" height="0.20" fill="#D43D1F"/>
<rect x="293.60" y="241.35" width="7.35" height="3.20" fill="#454545"/>
<rect x="303.26" y="140.40" width="7.35" height="20.65" fill="#E8821E"/>
<rect x="303.26" y="161.00" width="7.35" height="24.45" fill="#66FF9E"/>
<rect x="303.26" y="185.40" width="7.35" height="8.45" fill="#C9BE5E"/>
<rect x="303.26" y="193.80" width="7.35" height="8.15" fill="#FFE1A3"/>
<rect x="303.26" y="201.90" width="7.35" height="5.05" fill="#E619D6"/>
<rect x="303.26" y="206.90" width="7.35" height="8.75" fill="#A39C30"/>
<rect x="303.26" y="215.60" width="7.35" height="0.95" fill="#BFDAEB"/>
<rect x="303.26" y="216.50" width="7.35" height="5.35" fill="#F2EA8C"/>
<rect x="303.26" y="221.80" width="7.35" height="8.85" fill="#1F40FA"/>
<rect x="303.26" y="230.60" width="7.35" height="3.45" fill="#BFFF00"/>
<rect x="303.26" y="234.00" width="7.35" height="1.05" fill="#6E5E1F"/>
<rect x="303.26" y="235.00" width="7.35" height="1.45" fill="#7A8FE8"/>
<rect x="303.26" y="236.40" width="7.35" height="1.45" fill="#BFBF57"/>
<rect x="303.26" y="237.80" width="7.35" height="0.55" fill="#5E7563"/>
<rect x="303.26" y="238.30" width="7.35" height="1.05" fill="#4FF000"/>
<rect x="303.26" y="239.30" width="7.35" height="0.25" fill="#A3166E"/>
<rect x="303.26" y="239.50" width="7.35" height="1.75" fill="#52B8FF"/>
<rect x="303.26" y="241.20" width="7.35" height="0.20" fill="#D43D1F"/>
<rect x="303.26" y="241.35" width="7.35" height="3.20" fill="#454545"/>
<rect x="312.92" y="140.40" width="7.35" height="28.55" fill="#E8821E"/>
<rect x="312.92" y="168.90" width="7.35" height="19.75" fill="#66FF9E"/>
<rect x="312.92" y="188.60" width="7.35" height="5.65" fill="#C9BE5E"/>
<rect x="312.92" y="194.20" width="7.35" height="5.85" fill="#FFE1A3"/>
<rect x="312.92" y="200.00" width="7.35" height="4.25" fill="#E619D6"/>
<rect x="312.92" y="204.20" width="7.35" height="7.85" fill="#A39C30"/>
<rect x="312.92" y="212.00" width="7.35" height="0.95" fill="#BFDAEB"/>
<rect x="312.92" y="212.90" width="7.35" height="3.95" fill="#F2EA8C"/>
<rect x="312.92" y="216.80" width="7.35" height="11.05" fill="#1F40FA"/>
<rect x="312.92" y="227.80" width="7.35" height="4.55" fill="#BFFF00"/>
<rect x="312.92" y="232.30" width="7.35" height="1.75" fill="#6E5E1F"/>
<rect x="312.92" y="234.00" width="7.35" height="1.85" fill="#7A8FE8"/>
<rect x="312.92" y="235.80" width="7.35" height="1.85" fill="#BFBF57"/>
<rect x="312.92" y="237.60" width="7.35" height="0.45" fill="#5E7563"/>
<rect x="312.92" y="238.00" width="7.35" height="1.35" fill="#4FF000"/>
<rect x="312.92" y="239.30" width="7.35" height="0.25" fill="#A3166E"/>
<rect x="312.92" y="239.50" width="7.35" height="1.75" fill="#52B8FF"/>
<rect x="312.92" y="241.20" width="7.35" height="0.20" fill="#D43D1F"/>
<rect x="312.92" y="241.35" width="7.35" height="3.20" fill="#454545"/>
<rect x="322.58" y="140.40" width="7.35" height="23.45" fill="#E8821E"/>
<rect x="322.58" y="163.80" width="7.35" height="24.15" fill="#66FF9E"/>
<rect x="322.58" y="187.90" width="7.35" height="7.75" fill="#C9BE5E"/>
<rect x="322.58" y="195.60" width="7.35" height="7.95" fill="#FFE1A3"/>
<rect x="322.58" y="203.50" width="7.35" height="4.35" fill="#E619D6"/>
<rect x="322.58" y="207.80" width="7.35" height="15.45" fill="#A39C30"/>
<rect x="322.58" y="223.20" width="7.35" height="0.65" fill="#BFDAEB"/>
<rect x="322.58" y="223.80" width="7.35" height="4.35" fill="#F2EA8C"/>
<rect x="322.58" y="228.10" width="7.35" height="4.25" fill="#1F40FA"/>
<rect x="322.58" y="232.30" width="7.35" height="3.95" fill="#BFFF00"/>
<rect x="322.58" y="236.20" width="7.35" height="1.05" fill="#6E5E1F"/>
<rect x="322.58" y="237.20" width="7.35" height="1.45" fill="#7A8FE8"/>
<rect x="322.58" y="238.60" width="7.35" height="0.95" fill="#BFBF57"/>
<rect x="322.58" y="239.50" width="7.35" height="0.55" fill="#5E7563"/>
<rect x="322.58" y="240.00" width="7.35" height="0.85" fill="#4FF000"/>
<rect x="322.58" y="240.80" width="7.35" height="0.25" fill="#A3166E"/>
<rect x="322.58" y="241.00" width="7.35" height="0.65" fill="#52B8FF"/>
<rect x="322.58" y="241.60" width="7.35" height="0.20" fill="#D43D1F"/>
<rect x="322.58" y="241.75" width="7.35" height="2.80" fill="#454545"/>
<rect x="332.24" y="140.40" width="7.35" height="20.35" fill="#E8821E"/>
<rect x="332.24" y="160.70" width="7.35" height="25.65" fill="#66FF9E"/>
<rect x="332.24" y="186.30" width="7.35" height="7.55" fill="#C9BE5E"/>
<rect x="332.24" y="193.80" width="7.35" height="6.05" fill="#FFE1A3"/>
<rect x="332.24" y="199.80" width="7.35" height="5.15" fill="#E619D6"/>
<rect x="332.24" y="204.90" width="7.35" height="8.85" fill="#A39C30"/>
<rect x="332.24" y="213.70" width="7.35" height="1.05" fill="#BFDAEB"/>
<rect x="332.24" y="214.70" width="7.35" height="4.55" fill="#F2EA8C"/>
<rect x="332.24" y="219.20" width="7.35" height="8.65" fill="#1F40FA"/>
<rect x="332.24" y="227.80" width="7.35" height="5.25" fill="#BFFF00"/>
<rect x="332.24" y="233.00" width="7.35" height="1.95" fill="#6E5E1F"/>
<rect x="332.24" y="234.90" width="7.35" height="1.25" fill="#7A8FE8"/>
<rect x="332.24" y="236.10" width="7.35" height="0.75" fill="#BFBF57"/>
<rect x="332.24" y="236.80" width="7.35" height="0.55" fill="#5E7563"/>
<rect x="332.24" y="237.30" width="7.35" height="2.75" fill="#4FF000"/>
<rect x="332.24" y="240.00" width="7.35" height="1.25" fill="#A3166E"/>
<rect x="332.24" y="241.20" width="7.35" height="0.35" fill="#52B8FF"/>
<rect x="332.24" y="241.50" width="7.35" height="0.20" fill="#D43D1F"/>
<rect x="332.24" y="241.65" width="7.35" height="2.90" fill="#454545"/>
<rect x="341.90" y="140.40" width="7.35" height="27.35" fill="#E8821E"/>
<rect x="341.90" y="167.70" width="7.35" height="22.75" fill="#66FF9E"/>
<rect x="341.90" y="190.40" width="7.35" height="5.65" fill="#C9BE5E"/>
<rect x="341.90" y="196.00" width="7.35" height="7.25" fill="#FFE1A3"/>
<rect x="341.90" y="203.20" width="7.35" height="5.35" fill="#E619D6"/>
<rect x="341.90" y="208.50" width="7.35" height="10.75" fill="#A39C30"/>
<rect x="341.90" y="219.20" width="7.35" height="0.45" fill="#BFDAEB"/>
<rect x="341.90" y="219.60" width="7.35" height="1.95" fill="#F2EA8C"/>
<rect x="341.90" y="221.50" width="7.35" height="4.35" fill="#1F40FA"/>
<rect x="341.90" y="225.80" width="7.35" height="5.25" fill="#BFFF00"/>
<rect x="341.90" y="231.00" width="7.35" height="1.55" fill="#6E5E1F"/>
<rect x="341.90" y="232.50" width="7.35" height="2.45" fill="#7A8FE8"/>
<rect x="341.90" y="234.90" width="7.35" height="0.65" fill="#BFBF57"/>
<rect x="341.90" y="235.50" width="7.35" height="1.85" fill="#5E7563"/>
<rect x="341.90" y="237.30" width="7.35" height="1.45" fill="#4FF000"/>
<rect x="341.90" y="238.70" width="7.35" height="0.35" fill="#A3166E"/>
<rect x="341.90" y="239.00" width="7.35" height="2.25" fill="#52B8FF"/>
<rect x="341.90" y="241.20" width="7.35" height="0.20" fill="#D43D1F"/>
<rect x="341.90" y="241.35" width="7.35" height="3.20" fill="#454545"/>
<rect x="351.56" y="140.40" width="7.35" height="25.25" fill="#E8821E"/>
<rect x="351.56" y="165.60" width="7.35" height="21.45" fill="#66FF9E"/>
<rect x="351.56" y="187.00" width="7.35" height="6.15" fill="#C9BE5E"/>
<rect x="351.56" y="193.10" width="7.35" height="8.85" fill="#FFE1A3"/>
<rect x="351.56" y="201.90" width="7.35" height="5.95" fill="#E619D6"/>
<rect x="351.56" y="207.80" width="7.35" height="12.65" fill="#A39C30"/>
<rect x="351.56" y="220.40" width="7.35" height="0.65" fill="#BFDAEB"/>
<rect x="351.56" y="221.00" width="7.35" height="2.65" fill="#F2EA8C"/>
<rect x="351.56" y="223.60" width="7.35" height="5.85" fill="#1F40FA"/>
<rect x="351.56" y="229.40" width="7.35" height="4.75" fill="#BFFF00"/>
<rect x="351.56" y="234.10" width="7.35" height="0.95" fill="#6E5E1F"/>
<rect x="351.56" y="235.00" width="7.35" height="3.05" fill="#7A8FE8"/>
<rect x="351.56" y="238.00" width="7.35" height="0.95" fill="#BFBF57"/>
<rect x="351.56" y="238.90" width="7.35" height="0.55" fill="#5E7563"/>
<rect x="351.56" y="239.40" width="7.35" height="0.85" fill="#4FF000"/>
<rect x="351.56" y="240.20" width="7.35" height="0.25" fill="#A3166E"/>
<rect x="351.56" y="240.40" width="7.35" height="1.05" fill="#52B8FF"/>
<rect x="351.56" y="241.40" width="7.35" height="0.20" fill="#D43D1F"/>
<rect x="351.56" y="241.55" width="7.35" height="3.00" fill="#454545"/>
<rect x="361.22" y="140.40" width="7.35" height="27.65" fill="#E8821E"/>
<rect x="361.22" y="168.00" width="7.35" height="23.15" fill="#66FF9E"/>
<rect x="361.22" y="191.10" width="7.35" height="6.35" fill="#C9BE5E"/>
<rect x="361.22" y="197.40" width="7.35" height="7.95" fill="#FFE1A3"/>
<rect x="361.22" y="205.30" width="7.35" height="5.25" fill="#E619D6"/>
<rect x="361.22" y="210.50" width="7.35" height="11.85" fill="#A39C30"/>
<rect x="361.22" y="222.30" width="7.35" height="0.45" fill="#BFDAEB"/>
<rect x="361.22" y="222.70" width="7.35" height="1.25" fill="#F2EA8C"/>
<rect x="361.22" y="223.90" width="7.35" height="3.55" fill="#1F40FA"/>
<rect x="361.22" y="227.40" width="7.35" height="3.65" fill="#BFFF00"/>
<rect x="361.22" y="231.00" width="7.35" height="2.05" fill="#6E5E1F"/>
<rect x="361.22" y="233.00" width="7.35" height="2.75" fill="#7A8FE8"/>
<rect x="361.22" y="235.70" width="7.35" height="2.15" fill="#BFBF57"/>
<rect x="361.22" y="237.80" width="7.35" height="0.35" fill="#5E7563"/>
<rect x="361.22" y="238.10" width="7.35" height="0.35" fill="#4FF000"/>
<rect x="361.22" y="238.40" width="7.35" height="0.55" fill="#A3166E"/>
<rect x="361.22" y="238.90" width="7.35" height="2.65" fill="#52B8FF"/>
<rect x="361.22" y="241.50" width="7.35" height="0.20" fill="#D43D1F"/>
<rect x="361.22" y="241.65" width="7.35" height="2.90" fill="#454545"/>
<rect x="370.88" y="140.40" width="7.35" height="19.55" fill="#E8821E"/>
<rect x="370.88" y="159.90" width="7.35" height="19.45" fill="#66FF9E"/>
<rect x="370.88" y="179.30" width="7.35" height="7.95" fill="#C9BE5E"/>
<rect x="370.88" y="187.20" width="7.35" height="7.05" fill="#FFE1A3"/>
<rect x="370.88" y="194.20" width="7.35" height="4.25" fill="#E619D6"/>
<rect x="370.88" y="198.40" width="7.35" height="9.05" fill="#A39C30"/>
<rect x="370.88" y="207.40" width="7.35" height="0.85" fill="#BFDAEB"/>
<rect x="370.88" y="208.20" width="7.35" height="3.15" fill="#F2EA8C"/>
<rect x="370.88" y="211.30" width="7.35" height="5.55" fill="#1F40FA"/>
<rect x="370.88" y="216.80" width="7.35" height="9.55" fill="#BFFF00"/>
<rect x="370.88" y="226.30" width="7.35" height="1.15" fill="#6E5E1F"/>
<rect x="370.88" y="227.40" width="7.35" height="1.65" fill="#7A8FE8"/>
<rect x="370.88" y="229.00" width="7.35" height="1.25" fill="#BFBF57"/>
<rect x="370.88" y="230.20" width="7.35" height="0.85" fill="#5E7563"/>
<rect x="370.88" y="231.00" width="7.35" height="6.35" fill="#4FF000"/>
<rect x="370.88" y="237.30" width="7.35" height="0.25" fill="#A3166E"/>
<rect x="370.88" y="237.50" width="7.35" height="3.75" fill="#52B8FF"/>
<rect x="370.88" y="241.20" width="7.35" height="0.20" fill="#D43D1F"/>
<rect x="370.88" y="241.35" width="7.35" height="3.20" fill="#454545"/>
<rect x="380.54" y="140.40" width="7.35" height="23.15" fill="#E8821E"/>
<rect x="380.54" y="163.50" width="7.35" height="17.75" fill="#66FF9E"/>
<rect x="380.54" y="181.20" width="7.35" height="7.85" fill="#C9BE5E"/>
<rect x="380.54" y="189.00" width="7.35" height="8.05" fill="#FFE1A3"/>
<rect x="380.54" y="197.00" width="7.35" height="6.25" fill="#E619D6"/>
<rect x="380.54" y="203.20" width="7.35" height="12.05" fill="#A39C30"/>
<rect x="380.54" y="215.20" width="7.35" height="0.85" fill="#BFDAEB"/>
<rect x="380.54" y="216.00" width="7.35" height="4.05" fill="#F2EA8C"/>
<rect x="380.54" y="220.00" width="7.35" height="7.05" fill="#1F40FA"/>
<rect x="380.54" y="227.00" width="7.35" height="5.05" fill="#BFFF00"/>
<rect x="380.54" y="232.00" width="7.35" height="1.35" fill="#6E5E1F"/>
<rect x="380.54" y="233.30" width="7.35" height="1.95" fill="#7A8FE8"/>
<rect x="380.54" y="235.20" width="7.35" height="2.15" fill="#BFBF57"/>
<rect x="380.54" y="237.30" width="7.35" height="0.35" fill="#5E7563"/>
<rect x="380.54" y="237.60" width="7.35" height="1.35" fill="#4FF000"/>
<rect x="380.54" y="238.90" width="7.35" height="1.55" fill="#A3166E"/>
<rect x="380.54" y="240.40" width="7.35" height="0.85" fill="#52B8FF"/>
<rect x="380.54" y="241.20" width="7.35" height="0.20" fill="#D43D1F"/>
<rect x="380.54" y="241.35" width="7.35" height="3.20" fill="#454545"/>
<rect x="390.20" y="140.40" width="7.35" height="21.65" fill="#E8821E"/>
<rect x="390.20" y="162.00" width="7.35" height="23.65" fill="#66FF9E"/>
<rect x="390.20" y="185.60" width="7.35" height="7.25" fill="#C9BE5E"/>
<rect x="390.20" y="192.80" width="7.35" height="7.95" fill="#FFE1A3"/>
<rect x="390.20" y="200.70" width="7.35" height="7.05" fill="#E619D6"/>
<rect x="390.20" y="207.70" width="7.35" height="11.25" fill="#A39C30"/>
<rect x="390.20" y="218.90" width="7.35" height="1.05" fill="#BFDAEB"/>
<rect x="390.20" y="219.90" width="7.35" height="3.25" fill="#F2EA8C"/>
<rect x="390.20" y="223.10" width="7.35" height="5.95" fill="#1F40FA"/>
<rect x="390.20" y="229.00" width="7.35" height="5.15" fill="#BFFF00"/>
<rect x="390.20" y="234.10" width="7.35" height="0.95" fill="#6E5E1F"/>
<rect x="390.20" y="235.00" width="7.35" height="3.05" fill="#7A8FE8"/>
<rect x="390.20" y="238.00" width="7.35" height="1.25" fill="#BFBF57"/>
<rect x="390.20" y="239.20" width="7.35" height="0.45" fill="#5E7563"/>
<rect x="390.20" y="239.60" width="7.35" height="1.15" fill="#4FF000"/>
<rect x="390.20" y="240.70" width="7.35" height="0.25" fill="#A3166E"/>
<rect x="390.20" y="240.90" width="7.35" height="1.15" fill="#52B8FF"/>
<rect x="390.20" y="242.00" width="7.35" height="0.20" fill="#D43D1F"/>
<rect x="390.20" y="242.15" width="7.35" height="2.40" fill="#454545"/>
<rect x="399.86" y="140.40" width="7.35" height="32.15" fill="#E8821E"/>
<rect x="399.86" y="172.50" width="7.35" height="21.75" fill="#66FF9E"/>
<rect x="399.86" y="194.20" width="7.35" height="5.65" fill="#C9BE5E"/>
<rect x="399.86" y="199.80" width="7.35" height="6.95" fill="#FFE1A3"/>
<rect x="399.86" y="206.70" width="7.35" height="4.35" fill="#E619D6"/>
<rect x="399.86" y="211.00" width="7.35" height="12.15" fill="#A39C30"/>
<rect x="399.86" y="223.10" width="7.35" height="1.15" fill="#BFDAEB"/>
<rect x="399.86" y="224.20" width="7.35" height="1.35" fill="#F2EA8C"/>
<rect x="399.86" y="225.50" width="7.35" height="4.75" fill="#1F40FA"/>
<rect x="399.86" y="230.20" width="7.35" height="3.95" fill="#BFFF00"/>
<rect x="399.86" y="234.10" width="7.35" height="1.15" fill="#6E5E1F"/>
<rect x="399.86" y="235.20" width="7.35" height="2.85" fill="#7A8FE8"/>
<rect x="399.86" y="238.00" width="7.35" height="0.65" fill="#BFBF57"/>
<rect x="399.86" y="238.60" width="7.35" height="0.35" fill="#5E7563"/>
<rect x="399.86" y="238.90" width="7.35" height="1.55" fill="#4FF000"/>
<rect x="399.86" y="240.40" width="7.35" height="0.25" fill="#A3166E"/>
<rect x="399.86" y="240.60" width="7.35" height="0.85" fill="#52B8FF"/>
<rect x="399.86" y="241.40" width="7.35" height="0.20" fill="#D43D1F"/>
<rect x="399.86" y="241.55" width="7.35" height="3.00" fill="#454545"/>
<rect x="409.52" y="140.40" width="7.35" height="19.65" fill="#E8821E"/>
<rect x="409.52" y="160.00" width="7.35" height="21.25" fill="#66FF9E"/>
<rect x="409.52" y="181.20" width="7.35" height="7.15" fill="#C9BE5E"/>
<rect x="409.52" y="188.30" width="7.35" height="7.75" fill="#FFE1A3"/>
<rect x="409.52" y="196.00" width="7.35" height="6.15" fill="#E619D6"/>
<rect x="409.52" y="202.10" width="7.35" height="11.65" fill="#A39C30"/>
<rect x="409.52" y="213.70" width="7.35" height="0.85" fill="#BFDAEB"/>
<rect x="409.52" y="214.50" width="7.35" height="2.85" fill="#F2EA8C"/>
<rect x="409.52" y="217.30" width="7.35" height="4.75" fill="#1F40FA"/>
<rect x="409.52" y="222.00" width="7.35" height="8.55" fill="#BFFF00"/>
<rect x="409.52" y="230.50" width="7.35" height="1.05" fill="#6E5E1F"/>
<rect x="409.52" y="231.50" width="7.35" height="1.85" fill="#7A8FE8"/>
<rect x="409.52" y="233.30" width="7.35" height="1.95" fill="#BFBF57"/>
<rect x="409.52" y="235.20" width="7.35" height="0.45" fill="#5E7563"/>
<rect x="409.52" y="235.60" width="7.35" height="2.45" fill="#4FF000"/>
<rect x="409.52" y="238.00" width="7.35" height="0.25" fill="#A3166E"/>
<rect x="409.52" y="238.20" width="7.35" height="3.05" fill="#52B8FF"/>
<rect x="409.52" y="241.20" width="7.35" height="0.20" fill="#D43D1F"/>
<rect x="409.52" y="241.35" width="7.35" height="3.20" fill="#454545"/>
<rect x="419.18" y="140.40" width="7.35" height="20.25" fill="#E8821E"/>
<rect x="419.18" y="160.60" width="7.35" height="19.05" fill="#66FF9E"/>
<rect x="419.18" y="179.60" width="7.35" height="7.65" fill="#C9BE5E"/>
<rect x="419.18" y="187.20" width="7.35" height="7.05" fill="#FFE1A3"/>
<rect x="419.18" y="194.20" width="7.35" height="7.75" fill="#E619D6"/>
<rect x="419.18" y="201.90" width="7.35" height="12.95" fill="#A39C30"/>
<rect x="419.18" y="214.80" width="7.35" height="0.95" fill="#BFDAEB"/>
<rect x="419.18" y="215.70" width="7.35" height="3.55" fill="#F2EA8C"/>
<rect x="419.18" y="219.20" width="7.35" height="9.85" fill="#1F40FA"/>
<rect x="419.18" y="229.00" width="7.35" height="5.95" fill="#BFFF00"/>
<rect x="419.18" y="234.90" width="7.35" height="1.35" fill="#6E5E1F"/>
<rect x="419.18" y="236.20" width="7.35" height="1.15" fill="#7A8FE8"/>
<rect x="419.18" y="237.30" width="7.35" height="1.15" fill="#BFBF57"/>
<rect x="419.18" y="238.40" width="7.35" height="0.45" fill="#5E7563"/>
<rect x="419.18" y="238.80" width="7.35" height="1.65" fill="#4FF000"/>
<rect x="419.18" y="240.40" width="7.35" height="0.25" fill="#A3166E"/>
<rect x="419.18" y="240.60" width="7.35" height="0.65" fill="#52B8FF"/>
<rect x="419.18" y="241.20" width="7.35" height="0.20" fill="#D43D1F"/>
<rect x="419.18" y="241.35" width="7.35" height="3.20" fill="#454545"/>
<rect x="428.84" y="140.40" width="7.35" height="25.55" fill="#E8821E"/>
<rect x="428.84" y="165.90" width="7.35" height="17.25" fill="#66FF9E"/>
<rect x="428.84" y="183.10" width="7.35" height="5.95" fill="#C9BE5E"/>
<rect x="428.84" y="189.00" width="7.35" height="11.05" fill="#FFE1A3"/>
<rect x="428.84" y="200.00" width="7.35" height="5.35" fill="#E619D6"/>
<rect x="428.84" y="205.30" width="7.35" height="15.45" fill="#A39C30"/>
<rect x="428.84" y="220.70" width="7.35" height="0.55" fill="#BFDAEB"/>
<rect x="428.84" y="221.20" width="7.35" height="2.75" fill="#F2EA8C"/>
<rect x="428.84" y="223.90" width="7.35" height="2.85" fill="#1F40FA"/>
<rect x="428.84" y="226.70" width="7.35" height="5.45" fill="#BFFF00"/>
<rect x="428.84" y="232.10" width="7.35" height="1.25" fill="#6E5E1F"/>
<rect x="428.84" y="233.30" width="7.35" height="2.45" fill="#7A8FE8"/>
<rect x="428.84" y="235.70" width="7.35" height="1.15" fill="#BFBF57"/>
<rect x="428.84" y="236.80" width="7.35" height="0.55" fill="#5E7563"/>
<rect x="428.84" y="237.30" width="7.35" height="1.15" fill="#4FF000"/>
<rect x="428.84" y="238.40" width="7.35" height="0.95" fill="#A3166E"/>
<rect x="428.84" y="239.30" width="7.35" height="1.95" fill="#52B8FF"/>
<rect x="428.84" y="241.20" width="7.35" height="0.20" fill="#D43D1F"/>
<rect x="428.84" y="241.35" width="7.35" height="3.20" fill="#454545"/>
<rect x="438.50" y="140.40" width="7.35" height="26.45" fill="#E8821E"/>
<rect x="438.50" y="166.80" width="7.35" height="17.65" fill="#66FF9E"/>
<rect x="438.50" y="184.40" width="7.35" height="7.05" fill="#C9BE5E"/>
<rect x="438.50" y="191.40" width="7.35" height="9.55" fill="#FFE1A3"/>
<rect x="438.50" y="200.90" width="7.35" height="5.45" fill="#E619D6"/>
<rect x="438.50" y="206.30" width="7.35" height="14.45" fill="#A39C30"/>
<rect x="438.50" y="220.70" width="7.35" height="0.45" fill="#BFDAEB"/>
<rect x="438.50" y="221.10" width="7.35" height="0.95" fill="#F2EA8C"/>
<rect x="438.50" y="222.00" width="7.35" height="2.75" fill="#1F40FA"/>
<rect x="438.50" y="224.70" width="7.35" height="5.25" fill="#BFFF00"/>
<rect x="438.50" y="229.90" width="7.35" height="1.15" fill="#6E5E1F"/>
<rect x="438.50" y="231.00" width="7.35" height="4.75" fill="#7A8FE8"/>
<rect x="438.50" y="235.70" width="7.35" height="0.75" fill="#BFBF57"/>
<rect x="438.50" y="236.40" width="7.35" height="0.45" fill="#5E7563"/>
<rect x="438.50" y="236.80" width="7.35" height="1.65" fill="#4FF000"/>
<rect x="438.50" y="238.40" width="7.35" height="0.85" fill="#A3166E"/>
<rect x="438.50" y="239.20" width="7.35" height="2.05" fill="#52B8FF"/>
<rect x="438.50" y="241.20" width="7.35" height="0.20" fill="#D43D1F"/>
<rect x="438.50" y="241.35" width="7.35" height="3.20" fill="#454545"/>
<rect x="291.3" y="135.5" width="156.7" height="114.0" fill="none" stroke="#333" stroke-width="0.7"/>
<line x1="331.0" y1="135.5" x2="331.0" y2="249.5" stroke="#666" stroke-width="0.7" stroke-dasharray="2.4,1.4"/>
<line x1="369.6" y1="135.5" x2="369.6" y2="249.5" stroke="#666" stroke-width="0.7" stroke-dasharray="2.4,1.4"/>
<line x1="408.3" y1="135.5" x2="408.3" y2="249.5" stroke="#666" stroke-width="0.7" stroke-dasharray="2.4,1.4"/>
<line x1="289.3" y1="244.00" x2="291.3" y2="244.00" stroke="#333" stroke-width="0.5"/>
<text x="288.60" y="245.55" font-size="4.4" text-anchor="end" fill="#555">0</text>
<line x1="289.3" y1="218.05" x2="291.3" y2="218.05" stroke="#333" stroke-width="0.5"/>
<text x="288.60" y="219.60" font-size="4.4" text-anchor="end" fill="#555">25</text>
<line x1="289.3" y1="192.10" x2="291.3" y2="192.10" stroke="#333" stroke-width="0.5"/>
<text x="288.60" y="193.65" font-size="4.4" text-anchor="end" fill="#555">50</text>
<line x1="289.3" y1="166.15" x2="291.3" y2="166.15" stroke="#333" stroke-width="0.5"/>
<text x="288.60" y="167.70" font-size="4.4" text-anchor="end" fill="#555">75</text>
<line x1="289.3" y1="140.20" x2="291.3" y2="140.20" stroke="#333" stroke-width="0.5"/>
<text x="288.60" y="141.75" font-size="4.4" text-anchor="end" fill="#555">100</text>
<text x="275.60" y="191.95" font-size="6.92" text-anchor="middle" fill="#1a1a1a" stroke="#1a1a1a" stroke-width="0.04" transform="rotate(-90.00 275.60 191.95)">RNA relative abundance (%)</text>
<text x="299.08" y="252.3" font-size="6.7" text-anchor="end" fill="#111" stroke="#111" stroke-width="0.1" textLength="20.6" lengthAdjust="spacingAndGlyphs" transform="rotate(-90 299.08 252.3)">15 days</text>
<text x="308.74" y="252.3" font-size="6.7" text-anchor="end" fill="#111" stroke="#111" stroke-width="0.1" textLength="20.6" lengthAdjust="spacingAndGlyphs" transform="rotate(-90 308.74 252.3)">30 days</text>
<text x="318.40" y="252.3" font-size="6.7" text-anchor="end" fill="#111" stroke="#111" stroke-width="0.1" textLength="20.6" lengthAdjust="spacingAndGlyphs" transform="rotate(-90 318.40 252.3)">55 days</text>
<text x="328.06" y="252.3" font-size="6.7" text-anchor="end" fill="#111" stroke="#111" stroke-width="0.1" textLength="20.6" lengthAdjust="spacingAndGlyphs" transform="rotate(-90 328.06 252.3)">70 days</text>
<text x="337.72" y="252.3" font-size="6.7" text-anchor="end" fill="#111" stroke="#111" stroke-width="0.1" textLength="20.6" lengthAdjust="spacingAndGlyphs" transform="rotate(-90 337.72 252.3)">15 days</text>
<text x="347.38" y="252.3" font-size="6.7" text-anchor="end" fill="#111" stroke="#111" stroke-width="0.1" textLength="20.6" lengthAdjust="spacingAndGlyphs" transform="rotate(-90 347.38 252.3)">30 days</text>
<text x="357.04" y="252.3" font-size="6.7" text-anchor="end" fill="#111" stroke="#111" stroke-width="0.1" textLength="20.6" lengthAdjust="spacingAndGlyphs" transform="rotate(-90 357.04 252.3)">55 days</text>
<text x="366.70" y="252.3" font-size="6.7" text-anchor="end" fill="#111" stroke="#111" stroke-width="0.1" textLength="20.6" lengthAdjust="spacingAndGlyphs" transform="rotate(-90 366.70 252.3)">70 days</text>
<text x="376.36" y="252.3" font-size="6.7" text-anchor="end" fill="#111" stroke="#111" stroke-width="0.1" textLength="20.6" lengthAdjust="spacingAndGlyphs" transform="rotate(-90 376.36 252.3)">15 days</text>
<text x="386.02" y="252.3" font-size="6.7" text-anchor="end" fill="#111" stroke="#111" stroke-width="0.1" textLength="20.6" lengthAdjust="spacingAndGlyphs" transform="rotate(-90 386.02 252.3)">30 days</text>
<text x="395.68" y="252.3" font-size="6.7" text-anchor="end" fill="#111" stroke="#111" stroke-width="0.1" textLength="20.6" lengthAdjust="spacingAndGlyphs" transform="rotate(-90 395.68 252.3)">55 days</text>
<text x="405.34" y="252.3" font-size="6.7" text-anchor="end" fill="#111" stroke="#111" stroke-width="0.1" textLength="20.6" lengthAdjust="spacingAndGlyphs" transform="rotate(-90 405.34 252.3)">70 days</text>
<text x="415.00" y="252.3" font-size="6.7" text-anchor="end" fill="#111" stroke="#111" stroke-width="0.1" textLength="20.6" lengthAdjust="spacingAndGlyphs" transform="rotate(-90 415.00 252.3)">15 days</text>
<text x="424.66" y="252.3" font-size="6.7" text-anchor="end" fill="#111" stroke="#111" stroke-width="0.1" textLength="20.6" lengthAdjust="spacingAndGlyphs" transform="rotate(-90 424.66 252.3)">30 days</text>
<text x="434.32" y="252.3" font-size="6.7" text-anchor="end" fill="#111" stroke="#111" stroke-width="0.1" textLength="20.6" lengthAdjust="spacingAndGlyphs" transform="rotate(-90 434.32 252.3)">55 days</text>
<text x="443.98" y="252.3" font-size="6.7" text-anchor="end" fill="#111" stroke="#111" stroke-width="0.1" textLength="20.6" lengthAdjust="spacingAndGlyphs" transform="rotate(-90 443.98 252.3)">70 days</text>
<rect x="458.2" y="5.60" width="8.2" height="8.1" fill="#E8821E"/>
<text x="469.90" y="11.50" font-size="5.8" text-anchor="start" fill="#111" stroke="#111" stroke-width="0.15">Chloroflexi</text>
<rect x="458.2" y="16.58" width="8.2" height="8.1" fill="#66FF9E"/>
<text x="469.90" y="22.48" font-size="5.8" text-anchor="start" fill="#111" stroke="#111" stroke-width="0.15">Acidobacteria</text>
<rect x="458.2" y="27.56" width="8.2" height="8.1" fill="#C9BE5E"/>
<text x="469.90" y="33.46" font-size="5.8" text-anchor="start" fill="#111" stroke="#111" stroke-width="0.15">Betaproteobacteria</text>
<rect x="458.2" y="38.54" width="8.2" height="8.1" fill="#FFE1A3"/>
<text x="469.90" y="44.44" font-size="5.8" text-anchor="start" fill="#111" stroke="#111" stroke-width="0.15">Bacteroidetes</text>
<rect x="458.2" y="49.52" width="8.2" height="8.1" fill="#E619D6"/>
<text x="469.90" y="55.42" font-size="5.8" text-anchor="start" fill="#111" stroke="#111" stroke-width="0.15">Gemmatimonadetes</text>
<rect x="458.2" y="60.50" width="8.2" height="8.1" fill="#A39C30"/>
<text x="469.90" y="66.40" font-size="5.8" text-anchor="start" fill="#111" stroke="#111" stroke-width="0.15">Deltaproteobacteria</text>
<rect x="458.2" y="71.48" width="8.2" height="8.1" fill="#BFDAEB"/>
<text x="469.90" y="77.38" font-size="5.8" text-anchor="start" fill="#111" stroke="#111" stroke-width="0.15">CPR superphylum</text>
<rect x="458.2" y="82.46" width="8.2" height="8.1" fill="#F2EA8C"/>
<text x="469.90" y="88.36" font-size="5.8" text-anchor="start" fill="#111" stroke="#111" stroke-width="0.15">Alphaproteobacteria</text>
<rect x="458.2" y="93.44" width="8.2" height="8.1" fill="#1F40FA"/>
<text x="469.90" y="99.34" font-size="5.8" text-anchor="start" fill="#111" stroke="#111" stroke-width="0.15">Actinobacteria</text>
<rect x="458.2" y="104.42" width="8.2" height="8.1" fill="#BFFF00"/>
<text x="469.90" y="110.32" font-size="5.8" text-anchor="start" fill="#111" stroke="#111" stroke-width="0.15">Verrucomicrobia</text>
<rect x="458.2" y="115.40" width="8.2" height="8.1" fill="#6E5E1F"/>
<text x="469.90" y="121.30" font-size="5.8" text-anchor="start" fill="#111" stroke="#111" stroke-width="0.15">Gammaproteobacteria</text>
<rect x="458.2" y="126.38" width="8.2" height="8.1" fill="#7A8FE8"/>
<text x="469.90" y="132.28" font-size="5.8" text-anchor="start" fill="#111" stroke="#111" stroke-width="0.15">Nitrospirae</text>
<rect x="458.2" y="137.36" width="8.2" height="8.1" fill="#BFBF57"/>
<text x="469.90" y="143.26" font-size="5.8" text-anchor="start" fill="#111" stroke="#111" stroke-width="0.15">Thaumarchaeota</text>
<rect x="458.2" y="148.34" width="8.2" height="8.1" fill="#5E7563"/>
<text x="469.90" y="154.24" font-size="5.8" text-anchor="start" fill="#111" stroke="#111" stroke-width="0.15">Firmicutes</text>
<rect x="458.2" y="159.32" width="8.2" height="8.1" fill="#4FF000"/>
<text x="469.90" y="165.22" font-size="5.8" text-anchor="start" fill="#111" stroke="#111" stroke-width="0.15">Cyanobacteria</text>
<rect x="458.2" y="170.30" width="8.2" height="8.1" fill="#A3166E"/>
<text x="469.90" y="176.20" font-size="5.8" text-anchor="start" fill="#111" stroke="#111" stroke-width="0.15">Euryarchaeota</text>
<rect x="458.2" y="181.28" width="8.2" height="8.1" fill="#52B8FF"/>
<text x="469.90" y="187.18" font-size="5.8" text-anchor="start" fill="#111" stroke="#111" stroke-width="0.15">Planctomycetes</text>
<rect x="458.2" y="192.26" width="8.2" height="8.1" fill="#D43D1F"/>
<text x="469.90" y="198.16" font-size="5.8" text-anchor="start" fill="#111" stroke="#111" stroke-width="0.15">DPANN superphylum</text>
<rect x="458.2" y="203.24" width="8.2" height="8.1" fill="#454545"/>
<text x="469.90" y="209.14" font-size="5.8" text-anchor="start" fill="#111" stroke="#111" stroke-width="0.15">Others</text>
<text x="457.00" y="227.60" font-size="6.5" text-anchor="start" fill="#111" stroke="#111" stroke-width="0.15">Type</text>
<text x="495.60" y="227.60" font-size="6.5" text-anchor="start" fill="#111" stroke="#111" stroke-width="0.15">Time</text>
<rect x="459.5" y="234.70" width="4.0" height="4.0" fill="#000"/>
<circle cx="461.5" cy="244.90" r="2.1" fill="#000"/>
<polygon points="461.5,250.60 464.0,254.90 459.0,254.90" fill="#000"/>
<polygon points="461.5,260.00 463.4,261.90 461.5,263.80 459.6,261.90" fill="#000"/>
<text x="468.70" y="238.80" font-size="5.8" text-anchor="start" fill="#111" stroke="#111" stroke-width="0.15">Bulk</text>
<text x="468.70" y="247.00" font-size="5.8" text-anchor="start" fill="#111" stroke="#111" stroke-width="0.15">Kitaake</text>
<text x="468.70" y="255.20" font-size="5.8" text-anchor="start" fill="#111" stroke="#111" stroke-width="0.15">PSY1-17</text>
<text x="468.70" y="264.00" font-size="5.8" text-anchor="start" fill="#111" stroke="#111" stroke-width="0.15">PSY1-9</text>
<circle cx="499.4" cy="236.70" r="2.3" fill="#1B9E77"/>
<text x="506.80" y="238.80" font-size="5.8" text-anchor="start" fill="#111" stroke="#111" stroke-width="0.15">15 days</text>
<circle cx="499.4" cy="244.90" r="2.3" fill="#E6A000"/>
<text x="506.80" y="247.00" font-size="5.8" text-anchor="start" fill="#111" stroke="#111" stroke-width="0.15">30 days</text>
<circle cx="499.4" cy="253.10" r="2.3" fill="#E81C1C"/>
<text x="506.80" y="255.20" font-size="5.8" text-anchor="start" fill="#111" stroke="#111" stroke-width="0.15">55 days</text>
<circle cx="499.4" cy="261.90" r="2.3" fill="#9B30F0"/>
<text x="506.80" y="264.00" font-size="5.8" text-anchor="start" fill="#111" stroke="#111" stroke-width="0.15">70 days</text>
<text x="529.00" y="7.00" font-size="8.2" text-anchor="start" fill="#000" font-weight="bold">d</text>
<rect x="549.3" y="5.2" width="134.0" height="113.0" fill="none" stroke="#222" stroke-width="0.7"/>
<line x1="548.0" y1="30.0" x2="549.3" y2="30.0" stroke="#333" stroke-width="0.5"/>
<text x="547.10" y="31.60" font-size="4.6" text-anchor="end" fill="#555">0.1</text>
<line x1="548.0" y1="59.2" x2="549.3" y2="59.2" stroke="#333" stroke-width="0.5"/>
<text x="547.10" y="60.80" font-size="4.6" text-anchor="end" fill="#555">0.0</text>
<line x1="548.0" y1="88.4" x2="549.3" y2="88.4" stroke="#333" stroke-width="0.5"/>
<text x="547.10" y="90.00" font-size="4.6" text-anchor="end" fill="#555">-0.1</text>
<line x1="548.0" y1="117.6" x2="549.3" y2="117.6" stroke="#333" stroke-width="0.5"/>
<text x="547.10" y="119.20" font-size="4.6" text-anchor="end" fill="#555">-0.2</text>
<line x1="555.2" y1="118.2" x2="555.2" y2="119.7" stroke="#333" stroke-width="0.5"/>
<text x="555.20" y="124.90" font-size="4.6" text-anchor="middle" fill="#555">-0.2</text>
<line x1="581.8" y1="118.2" x2="581.8" y2="119.7" stroke="#333" stroke-width="0.5"/>
<text x="581.80" y="124.90" font-size="4.6" text-anchor="middle" fill="#555">-0.1</text>
<line x1="608.4" y1="118.2" x2="608.4" y2="119.7" stroke="#333" stroke-width="0.5"/>
<text x="608.40" y="124.90" font-size="4.6" text-anchor="middle" fill="#555">0.0</text>
<line x1="635.1" y1="118.2" x2="635.1" y2="119.7" stroke="#333" stroke-width="0.5"/>
<text x="635.10" y="124.90" font-size="4.6" text-anchor="middle" fill="#555">0.1</text>
<line x1="661.8" y1="118.2" x2="661.8" y2="119.7" stroke="#333" stroke-width="0.5"/>
<text x="661.80" y="124.90" font-size="4.6" text-anchor="middle" fill="#555">0.2</text>
<text x="618.80" y="132.10" font-size="6.1" text-anchor="middle" fill="#222" stroke="#222" stroke-width="0.04">NMDS1</text>
<text x="535.30" y="63.30" font-size="6.1" text-anchor="middle" fill="#222" stroke="#222" stroke-width="0.04" transform="rotate(-90.00 535.30 63.30)">NMDS2</text>
<text x="552.40" y="12.40" font-size="4.9" text-anchor="start" fill="#111" stroke="#111" stroke-width="0.05">Stress: 0.0745</text>
<ellipse cx="569.5" cy="55.0" rx="17.2" ry="24.75" transform="rotate(0 569.5 55.0)" fill="none" stroke="#1B9E77" stroke-width="0.7"/>
<ellipse cx="599.0" cy="46.85" rx="9.5" ry="35.65" transform="rotate(0 599.0 46.85)" fill="none" stroke="#E6A000" stroke-width="0.7"/>
<ellipse cx="617.9" cy="64.2" rx="8.6" ry="51.8" transform="rotate(-3.3 617.9 64.2)" fill="none" stroke="#E81C1C" stroke-width="0.7"/>
<ellipse cx="653.3" cy="44.2" rx="39.4" ry="26.9" transform="rotate(65.8 653.3 44.2)" fill="none" stroke="#9B30F0" stroke-width="0.7"/>
<rect x="572.10" y="33.10" width="3.40" height="3.40" fill="#1B9E77"/>
<circle cx="555.20" cy="54.30" r="1.60" fill="#1B9E77"/>
<polygon points="566.10,71.10 568.30,74.90 563.90,74.90" fill="#1B9E77"/>
<polygon points="569.10,75.20 570.90,77.00 569.10,78.80 567.30,77.00" fill="#1B9E77"/>
<rect x="596.30" y="14.30" width="3.40" height="3.40" fill="#E6A000"/>
<circle cx="594.00" cy="52.60" r="1.20" fill="#E6A000"/>
<polygon points="603.20,65.60 605.40,69.40 601.00,69.40" fill="#E6A000"/>
<circle cx="600.40" cy="76.40" r="1.60" fill="#E6A000"/>
<rect x="613.30" y="18.50" width="3.40" height="3.40" fill="#E81C1C"/>
<polygon points="621.50,72.70 623.70,76.50 619.30,76.50" fill="#E81C1C"/>
<circle cx="617.40" cy="97.00" r="1.60" fill="#E81C1C"/>
<polygon points="620.70,111.40 622.50,113.20 620.70,115.00 618.90,113.20" fill="#E81C1C"/>
<rect x="636.20" y="9.00" width="3.40" height="3.40" fill="#9B30F0"/>
<polygon points="630.70,47.20 632.90,51.00 628.50,51.00" fill="#9B30F0"/>
<circle cx="653.30" cy="59.00" r="1.60" fill="#9B30F0"/>
<polygon points="678.60,65.60 680.40,67.40 678.60,69.20 676.80,67.40" fill="#9B30F0"/>
<text x="529.50" y="137.30" font-size="8.2" text-anchor="start" fill="#000" font-weight="bold">e</text>
<rect x="549.3" y="137.2" width="134.0" height="112.2" fill="none" stroke="#222" stroke-width="0.7"/>
<line x1="548.0" y1="148.7" x2="549.3" y2="148.7" stroke="#333" stroke-width="0.5"/>
<text x="547.10" y="150.30" font-size="4.6" text-anchor="end" fill="#555">0.2</text>
<line x1="548.0" y1="170.5" x2="549.3" y2="170.5" stroke="#333" stroke-width="0.5"/>
<text x="547.10" y="172.10" font-size="4.6" text-anchor="end" fill="#555">0.1</text>
<line x1="548.0" y1="192.3" x2="549.3" y2="192.3" stroke="#333" stroke-width="0.5"/>
<text x="547.10" y="193.90" font-size="4.6" text-anchor="end" fill="#555">0.0</text>
<line x1="548.0" y1="214.3" x2="549.3" y2="214.3" stroke="#333" stroke-width="0.5"/>
<text x="547.10" y="215.90" font-size="4.6" text-anchor="end" fill="#555">-0.1</text>
<line x1="548.0" y1="236.3" x2="549.3" y2="236.3" stroke="#333" stroke-width="0.5"/>
<text x="547.10" y="237.90" font-size="4.6" text-anchor="end" fill="#555">-0.2</text>
<line x1="575.0" y1="249.1" x2="575.0" y2="250.6" stroke="#333" stroke-width="0.5"/>
<text x="575.00" y="256.80" font-size="4.6" text-anchor="middle" fill="#555">-0.2</text>
<line x1="613.8" y1="249.1" x2="613.8" y2="250.6" stroke="#333" stroke-width="0.5"/>
<text x="613.80" y="256.80" font-size="4.6" text-anchor="middle" fill="#555">0.0</text>
<line x1="653.8" y1="249.1" x2="653.8" y2="250.6" stroke="#333" stroke-width="0.5"/>
<text x="653.80" y="256.80" font-size="4.6" text-anchor="middle" fill="#555">0.2</text>
<text x="618.80" y="264.30" font-size="6.1" text-anchor="middle" fill="#222" stroke="#222" stroke-width="0.04">NMDS1</text>
<text x="535.30" y="190.60" font-size="6.1" text-anchor="middle" fill="#222" stroke="#222" stroke-width="0.04" transform="rotate(-90.00 535.30 190.60)">NMDS2</text>
<text x="552.40" y="144.00" font-size="4.9" text-anchor="start" fill="#111" stroke="#111" stroke-width="0.05">Stress: 0.0827</text>
<clipPath id="clipE"><rect x="549.6" y="137.4" width="133.6" height="111.8"/></clipPath>
<g clip-path="url(#clipE)">
<path d="M560.50,174.00 L561.58,172.94 L562.98,171.53 L564.63,169.84 L566.50,167.97 L568.52,166.01 L570.65,164.05 L572.83,162.18 L575.00,160.50 L577.27,158.92 L579.73,157.33 L582.32,155.76 L584.97,154.22 L587.62,152.75 L590.22,151.37 L592.70,150.11 L595.00,149.00 L597.06,148.05 L598.93,147.24 L600.66,146.55 L602.34,145.95 L604.05,145.42 L605.84,144.94 L607.80,144.47 L610.00,144.00 L612.50,143.48 L615.26,142.93 L618.20,142.38 L621.22,141.89 L624.25,141.49 L627.19,141.23 L629.97,141.15 L632.50,141.30 L634.77,141.66 L636.86,142.17 L638.80,142.84 L640.66,143.67 L642.46,144.65 L644.25,145.78 L646.09,147.06 L648.00,148.50 L650.09,150.27 L652.34,152.46 L654.67,154.90 L656.97,157.45 L659.15,159.94 L661.11,162.22 L662.76,164.12 L664.00,165.50" fill="none" stroke="#555" stroke-width="6.6" stroke-linecap="round" stroke-linejoin="round"/>
<path d="M560.50,174.00 L561.58,172.94 L562.98,171.53 L564.63,169.84 L566.50,167.97 L568.52,166.01 L570.65,164.05 L572.83,162.18 L575.00,160.50 L577.27,158.92 L579.73,157.33 L582.32,155.76 L584.97,154.22 L587.62,152.75 L590.22,151.37 L592.70,150.11 L595.00,149.00 L597.06,148.05 L598.93,147.24 L600.66,146.55 L602.34,145.95 L604.05,145.42 L605.84,144.94 L607.80,144.47 L610.00,144.00 L612.50,143.48 L615.26,142.93 L618.20,142.38 L621.22,141.89 L624.25,141.49 L627.19,141.23 L629.97,141.15 L632.50,141.30 L634.77,141.66 L636.86,142.17 L638.80,142.84 L640.66,143.67 L642.46,144.65 L644.25,145.78 L646.09,147.06 L648.00,148.50 L650.09,150.27 L652.34,152.46 L654.67,154.90 L656.97,157.45 L659.15,159.94 L661.11,162.22 L662.76,164.12 L664.00,165.50" fill="none" stroke="#fff" stroke-width="5.6" stroke-linecap="round" stroke-linejoin="round"/>
<path d="M599.00,165.30 L599.86,165.17 L601.02,164.98 L602.39,164.77 L603.92,164.53 L605.52,164.28 L607.11,164.03 L608.63,163.80 L610.00,163.60 L611.20,163.40 L612.29,163.16 L613.33,162.92 L614.36,162.70 L615.42,162.51 L616.56,162.39 L617.84,162.34 L619.30,162.40 L620.97,162.56 L622.81,162.80 L624.79,163.12 L626.86,163.50 L628.96,163.94 L631.04,164.42 L633.08,164.94 L635.00,165.50 L636.93,166.15 L638.95,166.94 L640.99,167.80 L642.98,168.69 L644.85,169.56 L646.52,170.35 L647.93,171.02 L649.00,171.50" fill="none" stroke="#555" stroke-width="6.6" stroke-linecap="round" stroke-linejoin="round"/>
<path d="M599.00,165.30 L599.86,165.17 L601.02,164.98 L602.39,164.77 L603.92,164.53 L605.52,164.28 L607.11,164.03 L608.63,163.80 L610.00,163.60 L611.20,163.40 L612.29,163.16 L613.33,162.92 L614.36,162.70 L615.42,162.51 L616.56,162.39 L617.84,162.34 L619.30,162.40 L620.97,162.56 L622.81,162.80 L624.79,163.12 L626.86,163.50 L628.96,163.94 L631.04,164.42 L633.08,164.94 L635.00,165.50 L636.93,166.15 L638.95,166.94 L640.99,167.80 L642.98,168.69 L644.85,169.56 L646.52,170.35 L647.93,171.02 L649.00,171.50" fill="none" stroke="#fff" stroke-width="5.6" stroke-linecap="round" stroke-linejoin="round"/>
<path d="M553.00,189.50 L554.29,189.11 L555.98,188.60 L558.00,187.99 L560.25,187.31 L562.66,186.59 L565.14,185.87 L567.62,185.16 L570.00,184.50 L572.36,183.86 L574.79,183.21 L577.28,182.56 L579.81,181.91 L582.37,181.27 L584.93,180.64 L587.48,180.05 L590.00,179.50 L592.58,178.97 L595.28,178.46 L598.02,177.97 L600.74,177.50 L603.36,177.06 L605.83,176.66 L608.06,176.31 L610.00,176.00 L611.57,175.72 L612.80,175.47 L613.78,175.24 L614.61,175.06 L615.38,174.94 L616.17,174.88 L617.08,174.89 L618.20,175.00 L619.48,175.17 L620.83,175.38 L622.24,175.65 L623.71,176.00 L625.22,176.44 L626.78,176.99 L628.37,177.67 L630.00,178.50 L631.78,179.59 L633.78,180.98 L635.88,182.56 L637.99,184.22 L640.01,185.85 L641.83,187.35 L643.36,188.60 L644.50,189.50" fill="none" stroke="#555" stroke-width="6.6" stroke-linecap="round" stroke-linejoin="round"/>
<path d="M553.00,189.50 L554.29,189.11 L555.98,188.60 L558.00,187.99 L560.25,187.31 L562.66,186.59 L565.14,185.87 L567.62,185.16 L570.00,184.50 L572.36,183.86 L574.79,183.21 L577.28,182.56 L579.81,181.91 L582.37,181.27 L584.93,180.64 L587.48,180.05 L590.00,179.50 L592.58,178.97 L595.28,178.46 L598.02,177.97 L600.74,177.50 L603.36,177.06 L605.83,176.66 L608.06,176.31 L610.00,176.00 L611.57,175.72 L612.80,175.47 L613.78,175.24 L614.61,175.06 L615.38,174.94 L616.17,174.88 L617.08,174.89 L618.20,175.00 L619.48,175.17 L620.83,175.38 L622.24,175.65 L623.71,176.00 L625.22,176.44 L626.78,176.99 L628.37,177.67 L630.00,178.50 L631.78,179.59 L633.78,180.98 L635.88,182.56 L637.99,184.22 L640.01,185.85 L641.83,187.35 L643.36,188.60 L644.50,189.50" fill="none" stroke="#fff" stroke-width="5.6" stroke-linecap="round" stroke-linejoin="round"/>
<path d="M580.50,244.00 L582.26,243.56 L584.63,242.90 L587.46,242.12 L590.58,241.28 L593.85,240.47 L597.11,239.77 L600.22,239.25 L603.00,239.00 L605.54,239.10 L608.02,239.50 L610.44,240.11 L612.80,240.81 L615.10,241.51 L617.35,242.09 L619.55,242.46 L621.70,242.50 L623.74,242.18 L625.65,241.60 L627.48,240.81 L629.27,239.91 L631.07,238.95 L632.92,238.01 L634.89,237.17 L637.00,236.50 L639.27,235.96 L641.64,235.48 L644.10,235.05 L646.63,234.66 L649.21,234.31 L651.81,234.00 L654.41,233.73 L657.00,233.50 L659.74,233.31 L662.71,233.19 L665.79,233.11 L668.85,233.06 L671.75,233.04 L674.36,233.03 L676.56,233.02 L678.20,233.00" fill="none" stroke="#555" stroke-width="6.6" stroke-linecap="round" stroke-linejoin="round"/>
<path d="M580.50,244.00 L582.26,243.56 L584.63,242.90 L587.46,242.12 L590.58,241.28 L593.85,240.47 L597.11,239.77 L600.22,239.25 L603.00,239.00 L605.54,239.10 L608.02,239.50 L610.44,240.11 L612.80,240.81 L615.10,241.51 L617.35,242.09 L619.55,242.46 L621.70,242.50 L623.74,242.18 L625.65,241.60 L627.48,240.81 L629.27,239.91 L631.07,238.95 L632.92,238.01 L634.89,237.17 L637.00,236.50 L639.27,235.96 L641.64,235.48 L644.10,235.05 L646.63,234.66 L649.21,234.31 L651.81,234.00 L654.41,233.73 L657.00,233.50 L659.74,233.31 L662.71,233.19 L665.79,233.11 L668.85,233.06 L671.75,233.04 L674.36,233.03 L676.56,233.02 L678.20,233.00" fill="none" stroke="#fff" stroke-width="5.6" stroke-linecap="round" stroke-linejoin="round"/>
</g>
<ellipse cx="568.7" cy="208.2" rx="14.9" ry="38.3" transform="rotate(-14.3 568.7 208.2)" fill="none" stroke="#1B9E77" stroke-width="0.7" stroke-dasharray="1.6,1.2"/>
<ellipse cx="610.3" cy="203.5" rx="9.7" ry="45.4" transform="rotate(-18.2 610.3 203.5)" fill="none" stroke="#E6A000" stroke-width="0.7" stroke-dasharray="1.6,1.2"/>
<ellipse cx="630.8" cy="191.35" rx="15.4" ry="51.3" transform="rotate(-3 630.8 191.35)" fill="none" stroke="#E81C1C" stroke-width="0.7" stroke-dasharray="1.6,1.2"/>
<ellipse cx="661.4" cy="203.55" rx="19.1" ry="44.4" transform="rotate(-14.3 661.4 203.55)" fill="none" stroke="#9B30F0" stroke-width="0.7" stroke-dasharray="1.6,1.2"/>
<polygon points="561.30,171.80 563.10,173.60 561.30,175.40 559.50,173.60" fill="#1B9E77"/>
<polygon points="554.90,186.20 557.10,190.00 552.70,190.00" fill="#1B9E77"/>
<circle cx="569.50" cy="207.00" r="1.60" fill="#1B9E77"/>
<rect x="579.80" y="242.60" width="3.40" height="3.40" fill="#1B9E77"/>
<circle cx="600.30" cy="165.40" r="1.60" fill="#E6A000"/>
<polygon points="597.70,179.50 599.90,183.30 595.50,183.30" fill="#E6A000"/>
<circle cx="599.30" cy="201.60" r="1.20" fill="#E6A000"/>
<rect x="619.90" y="243.30" width="3.40" height="3.40" fill="#E6A000"/>
<polygon points="632.00,139.70 633.80,141.50 632.00,143.30 630.20,141.50" fill="#E81C1C"/>
<circle cx="619.60" cy="162.80" r="1.60" fill="#E81C1C"/>
<polygon points="617.80,173.90 620.00,177.70 615.60,177.70" fill="#E81C1C"/>
<rect x="634.70" y="233.90" width="3.40" height="3.40" fill="#E81C1C"/>
<polygon points="664.00,163.60 665.80,165.40 664.00,167.20 662.20,165.40" fill="#9B30F0"/>
<circle cx="649.10" cy="171.00" r="1.60" fill="#9B30F0"/>
<polygon points="643.50,186.20 645.70,190.00 641.30,190.00" fill="#9B30F0"/>
<rect x="677.00" y="231.30" width="3.40" height="3.40" fill="#9B30F0"/>
</svg></body></html>
